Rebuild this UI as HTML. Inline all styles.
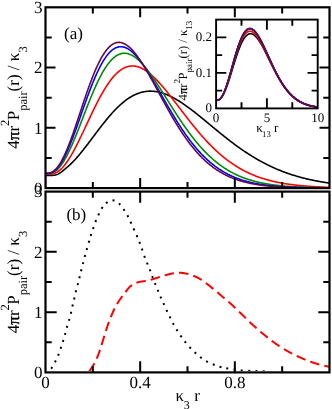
<!DOCTYPE html>
<html><head><meta charset="utf-8"><title>fig</title>
<style>html,body{margin:0;padding:0;background:#fff;}svg{display:block;will-change:transform}text{fill:#000;text-rendering:geometricPrecision;font-family:"Liberation Serif",serif}</style></head>
<body>
<svg width="332" height="409" viewBox="0 0 332 409">
<rect width="332" height="409" fill="#fff"/>
<g fill="none" stroke-linejoin="round">
<path d="M45.50,175.48 L46.21,175.49 L46.92,175.50 L47.64,175.51 L48.35,175.51 L49.06,175.50 L49.77,175.49 L50.48,175.47 L51.19,175.45 L51.91,175.41 L52.62,175.37 L53.33,175.30 L54.04,175.21 L54.75,175.10 L55.46,174.94 L56.18,174.75 L56.89,174.51 L57.60,174.21 L58.31,173.87 L59.02,173.48 L59.74,173.05 L60.45,172.58 L61.16,172.08 L61.87,171.55 L62.58,171.01 L63.29,170.45 L64.01,169.88 L64.72,169.30 L65.43,168.71 L66.14,168.12 L66.85,167.51 L67.57,166.90 L68.28,166.27 L68.99,165.63 L69.70,164.98 L70.41,164.31 L71.12,163.63 L71.84,162.93 L72.55,162.21 L73.26,161.48 L73.97,160.74 L74.68,159.98 L75.39,159.21 L76.11,158.42 L76.82,157.62 L77.53,156.81 L78.24,155.98 L78.95,155.15 L79.67,154.30 L80.38,153.44 L81.09,152.58 L81.80,151.70 L82.51,150.81 L83.22,149.92 L83.94,149.02 L84.65,148.11 L85.36,147.20 L86.07,146.28 L86.78,145.35 L87.49,144.42 L88.21,143.48 L88.92,142.54 L89.63,141.60 L90.34,140.66 L91.05,139.71 L91.77,138.76 L92.48,137.81 L93.19,136.86 L93.90,135.92 L94.61,134.97 L95.32,134.02 L96.04,133.07 L96.75,132.13 L97.46,131.19 L98.17,130.25 L98.88,129.31 L99.60,128.38 L100.31,127.45 L101.02,126.53 L101.73,125.61 L102.44,124.70 L103.15,123.80 L103.87,122.90 L104.58,122.01 L105.29,121.13 L106.00,120.25 L106.71,119.38 L107.42,118.52 L108.14,117.67 L108.85,116.83 L109.56,116.00 L110.27,115.18 L110.98,114.37 L111.70,113.57 L112.41,112.78 L113.12,112.00 L113.83,111.23 L114.54,110.48 L115.25,109.73 L115.97,109.00 L116.68,108.28 L117.39,107.58 L118.10,106.89 L118.81,106.21 L119.53,105.54 L120.24,104.89 L120.95,104.25 L121.66,103.63 L122.37,103.02 L123.08,102.42 L123.80,101.84 L124.51,101.28 L125.22,100.72 L125.93,100.19 L126.64,99.67 L127.35,99.16 L128.07,98.67 L128.78,98.19 L129.49,97.73 L130.20,97.29 L130.91,96.86 L131.63,96.44 L132.34,96.04 L133.05,95.66 L133.76,95.30 L134.47,94.94 L135.18,94.61 L135.90,94.29 L136.61,93.99 L137.32,93.70 L138.03,93.43 L138.74,93.17 L139.45,92.93 L140.17,92.70 L140.88,92.49 L141.59,92.30 L142.30,92.12 L143.01,91.96 L143.73,91.81 L144.44,91.68 L145.15,91.56 L145.86,91.46 L146.57,91.37 L147.28,91.30 L148.00,91.24 L148.71,91.20 L149.42,91.17 L150.13,91.16 L150.84,91.16 L151.56,91.18 L152.27,91.21 L152.98,91.25 L153.69,91.31 L154.40,91.38 L155.11,91.47 L155.83,91.56 L156.54,91.68 L157.25,91.80 L157.96,91.94 L158.67,92.09 L159.38,92.25 L160.10,92.43 L160.81,92.62 L161.52,92.82 L162.23,93.03 L162.94,93.26 L163.66,93.49 L164.37,93.74 L165.08,94.00 L165.79,94.27 L166.50,94.55 L167.21,94.84 L167.93,95.14 L168.64,95.45 L169.35,95.78 L170.06,96.11 L170.77,96.45 L171.48,96.80 L172.20,97.16 L172.91,97.53 L173.62,97.91 L174.33,98.30 L175.04,98.70 L175.76,99.10 L176.47,99.52 L177.18,99.94 L177.89,100.37 L178.60,100.80 L179.31,101.25 L180.03,101.70 L180.74,102.15 L181.45,102.62 L182.16,103.09 L182.87,103.57 L183.59,104.05 L184.30,104.54 L185.01,105.04 L185.72,105.54 L186.43,106.05 L187.14,106.56 L187.86,107.08 L188.57,107.60 L189.28,108.13 L189.99,108.66 L190.70,109.19 L191.41,109.73 L192.13,110.28 L192.84,110.82 L193.55,111.38 L194.26,111.93 L194.97,112.49 L195.69,113.05 L196.40,113.61 L197.11,114.18 L197.82,114.75 L198.53,115.32 L199.24,115.89 L199.96,116.47 L200.67,117.05 L201.38,117.63 L202.09,118.21 L202.80,118.79 L203.52,119.38 L204.23,119.96 L204.94,120.55 L205.65,121.14 L206.36,121.72 L207.07,122.31 L207.79,122.90 L208.50,123.49 L209.21,124.08 L209.92,124.67 L210.63,125.26 L211.34,125.85 L212.06,126.44 L212.77,127.03 L213.48,127.62 L214.19,128.21 L214.90,128.79 L215.62,129.38 L216.33,129.96 L217.04,130.55 L217.75,131.13 L218.46,131.71 L219.17,132.29 L219.89,132.87 L220.60,133.45 L221.31,134.02 L222.02,134.60 L222.73,135.17 L223.44,135.74 L224.16,136.30 L224.87,136.87 L225.58,137.43 L226.29,137.99 L227.00,138.55 L227.72,139.11 L228.43,139.66 L229.14,140.21 L229.85,140.76 L230.56,141.31 L231.27,141.85 L231.99,142.39 L232.70,142.92 L233.41,143.46 L234.12,143.99 L234.83,144.52 L235.55,145.04 L236.26,145.56 L236.97,146.08 L237.68,146.59 L238.39,147.11 L239.10,147.61 L239.82,148.12 L240.53,148.62 L241.24,149.12 L241.95,149.61 L242.66,150.10 L243.37,150.59 L244.09,151.07 L244.80,151.55 L245.51,152.03 L246.22,152.50 L246.93,152.97 L247.65,153.43 L248.36,153.89 L249.07,154.35 L249.78,154.80 L250.49,155.25 L251.20,155.69 L251.92,156.14 L252.63,156.57 L253.34,157.01 L254.05,157.44 L254.76,157.86 L255.47,158.28 L256.19,158.70 L256.90,159.12 L257.61,159.53 L258.32,159.93 L259.03,160.33 L259.75,160.73 L260.46,161.13 L261.17,161.52 L261.88,161.90 L262.59,162.28 L263.30,162.66 L264.02,163.04 L264.73,163.41 L265.44,163.77 L266.15,164.13 L266.86,164.49 L267.58,164.85 L268.29,165.20 L269.00,165.55 L269.71,165.89 L270.42,166.23 L271.13,166.56 L271.85,166.89 L272.56,167.22 L273.27,167.54 L273.98,167.86 L274.69,168.18 L275.40,168.49 L276.12,168.80 L276.83,169.11 L277.54,169.41 L278.25,169.71 L278.96,170.00 L279.68,170.29 L280.39,170.58 L281.10,170.86 L281.81,171.14 L282.52,171.41 L283.23,171.69 L283.95,171.96 L284.66,172.22 L285.37,172.48 L286.08,172.74 L286.79,173.00 L287.51,173.25 L288.22,173.50 L288.93,173.74 L289.64,173.98 L290.35,174.22 L291.06,174.46 L291.78,174.69 L292.49,174.92 L293.20,175.14 L293.91,175.36 L294.62,175.58 L295.33,175.80 L296.05,176.01 L296.76,176.22 L297.47,176.43 L298.18,176.63 L298.89,176.83 L299.61,177.03 L300.32,177.23 L301.03,177.42 L301.74,177.61 L302.45,177.80 L303.16,177.98 L303.88,178.16 L304.59,178.34 L305.30,178.52 L306.01,178.69 L306.72,178.86 L307.43,179.03 L308.15,179.19 L308.86,179.36 L309.57,179.52 L310.28,179.67 L310.99,179.83 L311.71,179.98 L312.42,180.13 L313.13,180.28 L313.84,180.43 L314.55,180.57 L315.26,180.71 L315.98,180.85 L316.69,180.99 L317.40,181.12 L318.11,181.25 L318.82,181.38 L319.54,181.51 L320.25,181.64 L320.96,181.76 L321.67,181.88 L322.38,182.00 L323.09,182.12 L323.81,182.24 L324.52,182.35 L325.23,182.46 L325.94,182.57 L326.65,182.68 L327.36,182.79 L328.08,182.89 L328.79,182.99 L329.50,183.09" stroke="#000000" stroke-width="1.6"/>
<path d="M45.50,174.18 L46.21,174.19 L46.92,174.22 L47.64,174.23 L48.35,174.24 L49.06,174.24 L49.77,174.21 L50.48,174.17 L51.19,174.09 L51.91,173.99 L52.62,173.85 L53.33,173.68 L54.04,173.47 L54.75,173.21 L55.46,172.92 L56.18,172.58 L56.89,172.19 L57.60,171.76 L58.31,171.29 L59.02,170.76 L59.74,170.19 L60.45,169.58 L61.16,168.92 L61.87,168.21 L62.58,167.46 L63.29,166.66 L64.01,165.83 L64.72,164.95 L65.43,164.03 L66.14,163.07 L66.85,162.08 L67.57,161.05 L68.28,159.98 L68.99,158.88 L69.70,157.75 L70.41,156.59 L71.12,155.39 L71.84,154.17 L72.55,152.92 L73.26,151.64 L73.97,150.34 L74.68,149.01 L75.39,147.66 L76.11,146.29 L76.82,144.91 L77.53,143.50 L78.24,142.08 L78.95,140.64 L79.67,139.18 L80.38,137.72 L81.09,136.24 L81.80,134.75 L82.51,133.25 L83.22,131.75 L83.94,130.24 L84.65,128.72 L85.36,127.20 L86.07,125.68 L86.78,124.16 L87.49,122.64 L88.21,121.12 L88.92,119.60 L89.63,118.09 L90.34,116.58 L91.05,115.08 L91.77,113.59 L92.48,112.10 L93.19,110.63 L93.90,109.17 L94.61,107.72 L95.32,106.28 L96.04,104.86 L96.75,103.45 L97.46,102.06 L98.17,100.68 L98.88,99.32 L99.60,97.99 L100.31,96.67 L101.02,95.37 L101.73,94.10 L102.44,92.84 L103.15,91.61 L103.87,90.41 L104.58,89.22 L105.29,88.07 L106.00,86.94 L106.71,85.83 L107.42,84.75 L108.14,83.70 L108.85,82.67 L109.56,81.68 L110.27,80.71 L110.98,79.77 L111.70,78.86 L112.41,77.98 L113.12,77.13 L113.83,76.31 L114.54,75.53 L115.25,74.77 L115.97,74.04 L116.68,73.34 L117.39,72.68 L118.10,72.05 L118.81,71.44 L119.53,70.87 L120.24,70.34 L120.95,69.83 L121.66,69.35 L122.37,68.91 L123.08,68.50 L123.80,68.12 L124.51,67.77 L125.22,67.45 L125.93,67.16 L126.64,66.90 L127.35,66.68 L128.07,66.48 L128.78,66.32 L129.49,66.18 L130.20,66.08 L130.91,66.01 L131.63,65.96 L132.34,65.94 L133.05,65.96 L133.76,66.00 L134.47,66.07 L135.18,66.16 L135.90,66.29 L136.61,66.44 L137.32,66.62 L138.03,66.82 L138.74,67.05 L139.45,67.30 L140.17,67.58 L140.88,67.89 L141.59,68.22 L142.30,68.57 L143.01,68.95 L143.73,69.35 L144.44,69.77 L145.15,70.21 L145.86,70.67 L146.57,71.16 L147.28,71.66 L148.00,72.19 L148.71,72.73 L149.42,73.30 L150.13,73.88 L150.84,74.48 L151.56,75.10 L152.27,75.73 L152.98,76.38 L153.69,77.05 L154.40,77.73 L155.11,78.43 L155.83,79.14 L156.54,79.87 L157.25,80.61 L157.96,81.36 L158.67,82.12 L159.38,82.90 L160.10,83.69 L160.81,84.49 L161.52,85.30 L162.23,86.12 L162.94,86.95 L163.66,87.79 L164.37,88.63 L165.08,89.49 L165.79,90.35 L166.50,91.22 L167.21,92.10 L167.93,92.99 L168.64,93.88 L169.35,94.77 L170.06,95.67 L170.77,96.58 L171.48,97.49 L172.20,98.40 L172.91,99.32 L173.62,100.24 L174.33,101.17 L175.04,102.09 L175.76,103.02 L176.47,103.95 L177.18,104.88 L177.89,105.82 L178.60,106.75 L179.31,107.68 L180.03,108.62 L180.74,109.55 L181.45,110.48 L182.16,111.41 L182.87,112.35 L183.59,113.27 L184.30,114.20 L185.01,115.13 L185.72,116.05 L186.43,116.97 L187.14,117.89 L187.86,118.80 L188.57,119.71 L189.28,120.62 L189.99,121.52 L190.70,122.42 L191.41,123.32 L192.13,124.21 L192.84,125.10 L193.55,125.98 L194.26,126.85 L194.97,127.73 L195.69,128.59 L196.40,129.45 L197.11,130.31 L197.82,131.16 L198.53,132.00 L199.24,132.84 L199.96,133.67 L200.67,134.49 L201.38,135.31 L202.09,136.12 L202.80,136.93 L203.52,137.72 L204.23,138.51 L204.94,139.30 L205.65,140.07 L206.36,140.84 L207.07,141.61 L207.79,142.36 L208.50,143.11 L209.21,143.85 L209.92,144.58 L210.63,145.31 L211.34,146.02 L212.06,146.73 L212.77,147.43 L213.48,148.13 L214.19,148.82 L214.90,149.49 L215.62,150.17 L216.33,150.83 L217.04,151.48 L217.75,152.13 L218.46,152.77 L219.17,153.40 L219.89,154.03 L220.60,154.64 L221.31,155.25 L222.02,155.85 L222.73,156.44 L223.44,157.03 L224.16,157.60 L224.87,158.17 L225.58,158.73 L226.29,159.29 L227.00,159.83 L227.72,160.37 L228.43,160.90 L229.14,161.42 L229.85,161.94 L230.56,162.44 L231.27,162.94 L231.99,163.44 L232.70,163.92 L233.41,164.40 L234.12,164.87 L234.83,165.33 L235.55,165.79 L236.26,166.24 L236.97,166.68 L237.68,167.12 L238.39,167.54 L239.10,167.96 L239.82,168.38 L240.53,168.79 L241.24,169.19 L241.95,169.58 L242.66,169.97 L243.37,170.35 L244.09,170.72 L244.80,171.09 L245.51,171.45 L246.22,171.81 L246.93,172.16 L247.65,172.50 L248.36,172.84 L249.07,173.17 L249.78,173.49 L250.49,173.81 L251.20,174.12 L251.92,174.43 L252.63,174.73 L253.34,175.03 L254.05,175.32 L254.76,175.61 L255.47,175.89 L256.19,176.16 L256.90,176.43 L257.61,176.69 L258.32,176.95 L259.03,177.21 L259.75,177.46 L260.46,177.70 L261.17,177.94 L261.88,178.18 L262.59,178.41 L263.30,178.63 L264.02,178.85 L264.73,179.07 L265.44,179.28 L266.15,179.49 L266.86,179.69 L267.58,179.89 L268.29,180.09 L269.00,180.28 L269.71,180.47 L270.42,180.65 L271.13,180.83 L271.85,181.01 L272.56,181.18 L273.27,181.35 L273.98,181.51 L274.69,181.67 L275.40,181.83 L276.12,181.99 L276.83,182.14 L277.54,182.29 L278.25,182.43 L278.96,182.57 L279.68,182.71 L280.39,182.85 L281.10,182.98 L281.81,183.11 L282.52,183.23 L283.23,183.36 L283.95,183.48 L284.66,183.59 L285.37,183.71 L286.08,183.82 L286.79,183.93 L287.51,184.04 L288.22,184.15 L288.93,184.25 L289.64,184.35 L290.35,184.45 L291.06,184.54 L291.78,184.63 L292.49,184.73 L293.20,184.81 L293.91,184.90 L294.62,184.99 L295.33,185.07 L296.05,185.15 L296.76,185.23 L297.47,185.31 L298.18,185.38 L298.89,185.45 L299.61,185.52 L300.32,185.59 L301.03,185.66 L301.74,185.73 L302.45,185.79 L303.16,185.86 L303.88,185.92 L304.59,185.98 L305.30,186.04 L306.01,186.09 L306.72,186.15 L307.43,186.20 L308.15,186.25 L308.86,186.31 L309.57,186.36 L310.28,186.40 L310.99,186.45 L311.71,186.50 L312.42,186.54 L313.13,186.59 L313.84,186.63 L314.55,186.67 L315.26,186.71 L315.98,186.75 L316.69,186.79 L317.40,186.83 L318.11,186.86 L318.82,186.90 L319.54,186.93 L320.25,186.97 L320.96,187.00 L321.67,187.03 L322.38,187.06 L323.09,187.09 L323.81,187.12 L324.52,187.15 L325.23,187.18 L325.94,187.21 L326.65,187.23 L327.36,187.26 L328.08,187.28 L328.79,187.31 L329.50,187.33" stroke="#ff0000" stroke-width="1.6"/>
<path d="M45.50,173.71 L46.21,173.72 L46.92,173.73 L47.64,173.73 L48.35,173.69 L49.06,173.63 L49.77,173.53 L50.48,173.40 L51.19,173.22 L51.91,172.99 L52.62,172.72 L53.33,172.39 L54.04,172.01 L54.75,171.58 L55.46,171.10 L56.18,170.55 L56.89,169.95 L57.60,169.30 L58.31,168.58 L59.02,167.81 L59.74,166.98 L60.45,166.10 L61.16,165.16 L61.87,164.16 L62.58,163.12 L63.29,162.02 L64.01,160.87 L64.72,159.67 L65.43,158.42 L66.14,157.12 L66.85,155.79 L67.57,154.40 L68.28,152.98 L68.99,151.52 L69.70,150.01 L70.41,148.48 L71.12,146.90 L71.84,145.30 L72.55,143.67 L73.26,142.00 L73.97,140.31 L74.68,138.60 L75.39,136.86 L76.11,135.11 L76.82,133.33 L77.53,131.54 L78.24,129.74 L78.95,127.92 L79.67,126.09 L80.38,124.25 L81.09,122.41 L81.80,120.56 L82.51,118.71 L83.22,116.86 L83.94,115.01 L84.65,113.16 L85.36,111.32 L86.07,109.49 L86.78,107.66 L87.49,105.84 L88.21,104.04 L88.92,102.25 L89.63,100.47 L90.34,98.71 L91.05,96.97 L91.77,95.25 L92.48,93.55 L93.19,91.88 L93.90,90.22 L94.61,88.60 L95.32,87.00 L96.04,85.42 L96.75,83.88 L97.46,82.36 L98.17,80.88 L98.88,79.43 L99.60,78.01 L100.31,76.63 L101.02,75.28 L101.73,73.96 L102.44,72.69 L103.15,71.45 L103.87,70.25 L104.58,69.08 L105.29,67.96 L106.00,66.87 L106.71,65.83 L107.42,64.82 L108.14,63.86 L108.85,62.94 L109.56,62.05 L110.27,61.22 L110.98,60.42 L111.70,59.66 L112.41,58.95 L113.12,58.28 L113.83,57.65 L114.54,57.06 L115.25,56.52 L115.97,56.02 L116.68,55.56 L117.39,55.14 L118.10,54.77 L118.81,54.43 L119.53,54.14 L120.24,53.89 L120.95,53.68 L121.66,53.51 L122.37,53.38 L123.08,53.29 L123.80,53.23 L124.51,53.22 L125.22,53.25 L125.93,53.31 L126.64,53.41 L127.35,53.55 L128.07,53.73 L128.78,53.94 L129.49,54.18 L130.20,54.46 L130.91,54.78 L131.63,55.13 L132.34,55.51 L133.05,55.92 L133.76,56.36 L134.47,56.84 L135.18,57.34 L135.90,57.88 L136.61,58.44 L137.32,59.03 L138.03,59.65 L138.74,60.29 L139.45,60.97 L140.17,61.66 L140.88,62.38 L141.59,63.13 L142.30,63.89 L143.01,64.68 L143.73,65.49 L144.44,66.32 L145.15,67.17 L145.86,68.04 L146.57,68.93 L147.28,69.84 L148.00,70.76 L148.71,71.70 L149.42,72.66 L150.13,73.63 L150.84,74.61 L151.56,75.61 L152.27,76.62 L152.98,77.65 L153.69,78.68 L154.40,79.73 L155.11,80.78 L155.83,81.85 L156.54,82.92 L157.25,84.00 L157.96,85.09 L158.67,86.19 L159.38,87.29 L160.10,88.40 L160.81,89.51 L161.52,90.63 L162.23,91.75 L162.94,92.88 L163.66,94.01 L164.37,95.14 L165.08,96.27 L165.79,97.41 L166.50,98.54 L167.21,99.68 L167.93,100.81 L168.64,101.95 L169.35,103.08 L170.06,104.21 L170.77,105.34 L171.48,106.47 L172.20,107.60 L172.91,108.72 L173.62,109.84 L174.33,110.95 L175.04,112.06 L175.76,113.17 L176.47,114.27 L177.18,115.36 L177.89,116.45 L178.60,117.54 L179.31,118.62 L180.03,119.69 L180.74,120.75 L181.45,121.81 L182.16,122.86 L182.87,123.90 L183.59,124.94 L184.30,125.97 L185.01,126.98 L185.72,128.00 L186.43,129.00 L187.14,129.99 L187.86,130.98 L188.57,131.95 L189.28,132.92 L189.99,133.87 L190.70,134.82 L191.41,135.76 L192.13,136.69 L192.84,137.61 L193.55,138.52 L194.26,139.41 L194.97,140.30 L195.69,141.18 L196.40,142.05 L197.11,142.91 L197.82,143.75 L198.53,144.59 L199.24,145.42 L199.96,146.23 L200.67,147.04 L201.38,147.84 L202.09,148.62 L202.80,149.39 L203.52,150.16 L204.23,150.91 L204.94,151.65 L205.65,152.38 L206.36,153.11 L207.07,153.82 L207.79,154.52 L208.50,155.21 L209.21,155.89 L209.92,156.56 L210.63,157.21 L211.34,157.86 L212.06,158.50 L212.77,159.13 L213.48,159.75 L214.19,160.36 L214.90,160.95 L215.62,161.54 L216.33,162.12 L217.04,162.69 L217.75,163.25 L218.46,163.80 L219.17,164.34 L219.89,164.87 L220.60,165.39 L221.31,165.90 L222.02,166.40 L222.73,166.90 L223.44,167.38 L224.16,167.86 L224.87,168.32 L225.58,168.78 L226.29,169.23 L227.00,169.67 L227.72,170.11 L228.43,170.53 L229.14,170.95 L229.85,171.35 L230.56,171.75 L231.27,172.15 L231.99,172.53 L232.70,172.91 L233.41,173.27 L234.12,173.64 L234.83,173.99 L235.55,174.34 L236.26,174.68 L236.97,175.01 L237.68,175.33 L238.39,175.65 L239.10,175.97 L239.82,176.27 L240.53,176.57 L241.24,176.86 L241.95,177.15 L242.66,177.43 L243.37,177.70 L244.09,177.97 L244.80,178.23 L245.51,178.49 L246.22,178.74 L246.93,178.98 L247.65,179.22 L248.36,179.45 L249.07,179.68 L249.78,179.90 L250.49,180.12 L251.20,180.33 L251.92,180.54 L252.63,180.74 L253.34,180.94 L254.05,181.14 L254.76,181.32 L255.47,181.51 L256.19,181.69 L256.90,181.86 L257.61,182.03 L258.32,182.20 L259.03,182.36 L259.75,182.52 L260.46,182.68 L261.17,182.83 L261.88,182.98 L262.59,183.12 L263.30,183.26 L264.02,183.40 L264.73,183.53 L265.44,183.66 L266.15,183.79 L266.86,183.91 L267.58,184.03 L268.29,184.15 L269.00,184.26 L269.71,184.37 L270.42,184.48 L271.13,184.59 L271.85,184.69 L272.56,184.79 L273.27,184.88 L273.98,184.98 L274.69,185.07 L275.40,185.16 L276.12,185.25 L276.83,185.33 L277.54,185.41 L278.25,185.50 L278.96,185.57 L279.68,185.65 L280.39,185.72 L281.10,185.79 L281.81,185.86 L282.52,185.93 L283.23,186.00 L283.95,186.06 L284.66,186.12 L285.37,186.19 L286.08,186.24 L286.79,186.30 L287.51,186.36 L288.22,186.41 L288.93,186.46 L289.64,186.51 L290.35,186.56 L291.06,186.61 L291.78,186.66 L292.49,186.70 L293.20,186.75 L293.91,186.79 L294.62,186.83 L295.33,186.87 L296.05,186.91 L296.76,186.95 L297.47,186.99 L298.18,187.02 L298.89,187.06 L299.61,187.09 L300.32,187.12 L301.03,187.15 L301.74,187.19 L302.45,187.21 L303.16,187.24 L303.88,187.27 L304.59,187.30 L305.30,187.33 L306.01,187.35 L306.72,187.38 L307.43,187.40 L308.15,187.42 L308.86,187.44 L309.57,187.47 L310.28,187.49 L310.99,187.51 L311.71,187.53 L312.42,187.55 L313.13,187.57 L313.84,187.58 L314.55,187.60 L315.26,187.62 L315.98,187.63 L316.69,187.65 L317.40,187.67 L318.11,187.68 L318.82,187.69 L319.54,187.71 L320.25,187.72 L320.96,187.73 L321.67,187.75 L322.38,187.76 L323.09,187.77 L323.81,187.78 L324.52,187.79 L325.23,187.80 L325.94,187.81 L326.65,187.82 L327.36,187.83 L328.08,187.84 L328.79,187.85 L329.50,187.86" stroke="#008b00" stroke-width="1.6"/>
<path d="M45.50,173.52 L46.21,173.53 L46.92,173.54 L47.64,173.51 L48.35,173.46 L49.06,173.36 L49.77,173.22 L50.48,173.03 L51.19,172.78 L51.91,172.49 L52.62,172.13 L53.33,171.71 L54.04,171.24 L54.75,170.70 L55.46,170.09 L56.18,169.43 L56.89,168.70 L57.60,167.91 L58.31,167.05 L59.02,166.13 L59.74,165.15 L60.45,164.11 L61.16,163.00 L61.87,161.84 L62.58,160.62 L63.29,159.34 L64.01,158.00 L64.72,156.62 L65.43,155.18 L66.14,153.68 L66.85,152.15 L67.57,150.56 L68.28,148.93 L68.99,147.26 L69.70,145.55 L70.41,143.80 L71.12,142.01 L71.84,140.19 L72.55,138.34 L73.26,136.47 L73.97,134.56 L74.68,132.63 L75.39,130.68 L76.11,128.72 L76.82,126.73 L77.53,124.73 L78.24,122.72 L78.95,120.71 L79.67,118.68 L80.38,116.65 L81.09,114.62 L81.80,112.58 L82.51,110.55 L83.22,108.53 L83.94,106.51 L84.65,104.50 L85.36,102.50 L86.07,100.51 L86.78,98.54 L87.49,96.59 L88.21,94.66 L88.92,92.74 L89.63,90.85 L90.34,88.98 L91.05,87.14 L91.77,85.33 L92.48,83.55 L93.19,81.79 L93.90,80.07 L94.61,78.38 L95.32,76.73 L96.04,75.12 L96.75,73.54 L97.46,72.00 L98.17,70.50 L98.88,69.04 L99.60,67.62 L100.31,66.24 L101.02,64.91 L101.73,63.62 L102.44,62.37 L103.15,61.18 L103.87,60.02 L104.58,58.92 L105.29,57.86 L106.00,56.85 L106.71,55.88 L107.42,54.97 L108.14,54.10 L108.85,53.28 L109.56,52.51 L110.27,51.79 L110.98,51.11 L111.70,50.49 L112.41,49.91 L113.12,49.39 L113.83,48.91 L114.54,48.48 L115.25,48.09 L115.97,47.76 L116.68,47.47 L117.39,47.23 L118.10,47.04 L118.81,46.89 L119.53,46.79 L120.24,46.73 L120.95,46.72 L121.66,46.75 L122.37,46.82 L123.08,46.94 L123.80,47.10 L124.51,47.31 L125.22,47.55 L125.93,47.83 L126.64,48.16 L127.35,48.52 L128.07,48.92 L128.78,49.36 L129.49,49.83 L130.20,50.34 L130.91,50.89 L131.63,51.47 L132.34,52.08 L133.05,52.72 L133.76,53.40 L134.47,54.11 L135.18,54.84 L135.90,55.61 L136.61,56.40 L137.32,57.22 L138.03,58.07 L138.74,58.94 L139.45,59.83 L140.17,60.75 L140.88,61.70 L141.59,62.66 L142.30,63.65 L143.01,64.65 L143.73,65.68 L144.44,66.72 L145.15,67.78 L145.86,68.86 L146.57,69.95 L147.28,71.06 L148.00,72.18 L148.71,73.31 L149.42,74.46 L150.13,75.62 L150.84,76.79 L151.56,77.97 L152.27,79.16 L152.98,80.36 L153.69,81.56 L154.40,82.78 L155.11,84.00 L155.83,85.22 L156.54,86.45 L157.25,87.69 L157.96,88.92 L158.67,90.16 L159.38,91.41 L160.10,92.65 L160.81,93.90 L161.52,95.15 L162.23,96.39 L162.94,97.64 L163.66,98.89 L164.37,100.13 L165.08,101.37 L165.79,102.61 L166.50,103.84 L167.21,105.08 L167.93,106.30 L168.64,107.53 L169.35,108.74 L170.06,109.96 L170.77,111.16 L171.48,112.36 L172.20,113.56 L172.91,114.75 L173.62,115.93 L174.33,117.10 L175.04,118.26 L175.76,119.42 L176.47,120.57 L177.18,121.70 L177.89,122.83 L178.60,123.95 L179.31,125.06 L180.03,126.17 L180.74,127.26 L181.45,128.34 L182.16,129.41 L182.87,130.47 L183.59,131.51 L184.30,132.55 L185.01,133.58 L185.72,134.59 L186.43,135.60 L187.14,136.59 L187.86,137.57 L188.57,138.54 L189.28,139.50 L189.99,140.45 L190.70,141.38 L191.41,142.30 L192.13,143.21 L192.84,144.11 L193.55,145.00 L194.26,145.87 L194.97,146.73 L195.69,147.58 L196.40,148.42 L197.11,149.24 L197.82,150.06 L198.53,150.86 L199.24,151.65 L199.96,152.42 L200.67,153.19 L201.38,153.94 L202.09,154.68 L202.80,155.41 L203.52,156.13 L204.23,156.83 L204.94,157.53 L205.65,158.21 L206.36,158.88 L207.07,159.54 L207.79,160.19 L208.50,160.82 L209.21,161.45 L209.92,162.06 L210.63,162.67 L211.34,163.26 L212.06,163.84 L212.77,164.41 L213.48,164.97 L214.19,165.52 L214.90,166.06 L215.62,166.58 L216.33,167.10 L217.04,167.61 L217.75,168.11 L218.46,168.60 L219.17,169.08 L219.89,169.54 L220.60,170.00 L221.31,170.45 L222.02,170.90 L222.73,171.33 L223.44,171.75 L224.16,172.16 L224.87,172.57 L225.58,172.97 L226.29,173.35 L227.00,173.73 L227.72,174.10 L228.43,174.47 L229.14,174.82 L229.85,175.17 L230.56,175.51 L231.27,175.84 L231.99,176.17 L232.70,176.48 L233.41,176.79 L234.12,177.10 L234.83,177.39 L235.55,177.68 L236.26,177.97 L236.97,178.24 L237.68,178.51 L238.39,178.77 L239.10,179.03 L239.82,179.28 L240.53,179.52 L241.24,179.76 L241.95,180.00 L242.66,180.22 L243.37,180.44 L244.09,180.66 L244.80,180.87 L245.51,181.08 L246.22,181.28 L246.93,181.47 L247.65,181.66 L248.36,181.85 L249.07,182.03 L249.78,182.20 L250.49,182.38 L251.20,182.54 L251.92,182.70 L252.63,182.86 L253.34,183.02 L254.05,183.17 L254.76,183.31 L255.47,183.46 L256.19,183.59 L256.90,183.73 L257.61,183.86 L258.32,183.99 L259.03,184.11 L259.75,184.23 L260.46,184.35 L261.17,184.46 L261.88,184.58 L262.59,184.68 L263.30,184.79 L264.02,184.89 L264.73,184.99 L265.44,185.09 L266.15,185.18 L266.86,185.27 L267.58,185.36 L268.29,185.45 L269.00,185.53 L269.71,185.61 L270.42,185.69 L271.13,185.77 L271.85,185.84 L272.56,185.91 L273.27,185.98 L273.98,186.05 L274.69,186.12 L275.40,186.18 L276.12,186.24 L276.83,186.30 L277.54,186.36 L278.25,186.42 L278.96,186.47 L279.68,186.53 L280.39,186.58 L281.10,186.63 L281.81,186.68 L282.52,186.72 L283.23,186.77 L283.95,186.81 L284.66,186.86 L285.37,186.90 L286.08,186.94 L286.79,186.98 L287.51,187.01 L288.22,187.05 L288.93,187.09 L289.64,187.12 L290.35,187.15 L291.06,187.19 L291.78,187.22 L292.49,187.25 L293.20,187.28 L293.91,187.31 L294.62,187.33 L295.33,187.36 L296.05,187.38 L296.76,187.41 L297.47,187.43 L298.18,187.46 L298.89,187.48 L299.61,187.50 L300.32,187.52 L301.03,187.54 L301.74,187.56 L302.45,187.58 L303.16,187.60 L303.88,187.62 L304.59,187.63 L305.30,187.65 L306.01,187.67 L306.72,187.68 L307.43,187.70 L308.15,187.71 L308.86,187.73 L309.57,187.74 L310.28,187.75 L310.99,187.77 L311.71,187.78 L312.42,187.79 L313.13,187.80 L313.84,187.81 L314.55,187.82 L315.26,187.83 L315.98,187.84 L316.69,187.85 L317.40,187.86 L318.11,187.87 L318.82,187.88 L319.54,187.89 L320.25,187.89 L320.96,187.90 L321.67,187.91 L322.38,187.92 L323.09,187.92 L323.81,187.93 L324.52,187.94 L325.23,187.94 L325.94,187.95 L326.65,187.95 L327.36,187.96 L328.08,187.97 L328.79,187.97 L329.50,187.98" stroke="#0000ff" stroke-width="1.6"/>
<path d="M45.50,173.07 L46.21,173.09 L46.92,173.09 L47.64,173.06 L48.35,173.00 L49.06,172.89 L49.77,172.73 L50.48,172.52 L51.19,172.25 L51.91,171.93 L52.62,171.53 L53.33,171.08 L54.04,170.55 L54.75,169.96 L55.46,169.30 L56.18,168.57 L56.89,167.77 L57.60,166.91 L58.31,165.97 L59.02,164.97 L59.74,163.90 L60.45,162.76 L61.16,161.56 L61.87,160.29 L62.58,158.96 L63.29,157.57 L64.01,156.12 L64.72,154.62 L65.43,153.06 L66.14,151.44 L66.85,149.78 L67.57,148.06 L68.28,146.30 L68.99,144.50 L69.70,142.66 L70.41,140.77 L71.12,138.85 L71.84,136.90 L72.55,134.91 L73.26,132.90 L73.97,130.86 L74.68,128.80 L75.39,126.72 L76.11,124.62 L76.82,122.50 L77.53,120.38 L78.24,118.24 L78.95,116.10 L79.67,113.95 L80.38,111.80 L81.09,109.65 L81.80,107.51 L82.51,105.37 L83.22,103.23 L83.94,101.11 L84.65,99.01 L85.36,96.91 L86.07,94.84 L86.78,92.78 L87.49,90.75 L88.21,88.73 L88.92,86.75 L89.63,84.79 L90.34,82.86 L91.05,80.96 L91.77,79.10 L92.48,77.27 L93.19,75.47 L93.90,73.72 L94.61,72.00 L95.32,70.32 L96.04,68.69 L96.75,67.09 L97.46,65.54 L98.17,64.04 L98.88,62.58 L99.60,61.17 L100.31,59.81 L101.02,58.49 L101.73,57.22 L102.44,56.01 L103.15,54.84 L103.87,53.73 L104.58,52.66 L105.29,51.65 L106.00,50.69 L106.71,49.79 L107.42,48.93 L108.14,48.13 L108.85,47.38 L109.56,46.69 L110.27,46.04 L110.98,45.45 L111.70,44.92 L112.41,44.43 L113.12,44.00 L113.83,43.62 L114.54,43.29 L115.25,43.01 L115.97,42.78 L116.68,42.60 L117.39,42.48 L118.10,42.40 L118.81,42.37 L119.53,42.39 L120.24,42.45 L120.95,42.57 L121.66,42.73 L122.37,42.93 L123.08,43.18 L123.80,43.47 L124.51,43.81 L125.22,44.19 L125.93,44.61 L126.64,45.07 L127.35,45.57 L128.07,46.11 L128.78,46.68 L129.49,47.30 L130.20,47.95 L130.91,48.63 L131.63,49.35 L132.34,50.10 L133.05,50.88 L133.76,51.70 L134.47,52.54 L135.18,53.42 L135.90,54.32 L136.61,55.25 L137.32,56.21 L138.03,57.19 L138.74,58.19 L139.45,59.22 L140.17,60.27 L140.88,61.34 L141.59,62.44 L142.30,63.55 L143.01,64.68 L143.73,65.83 L144.44,66.99 L145.15,68.17 L145.86,69.37 L146.57,70.57 L147.28,71.80 L148.00,73.03 L148.71,74.28 L149.42,75.53 L150.13,76.80 L150.84,78.07 L151.56,79.35 L152.27,80.64 L152.98,81.93 L153.69,83.23 L154.40,84.54 L155.11,85.85 L155.83,87.16 L156.54,88.48 L157.25,89.79 L157.96,91.11 L158.67,92.43 L159.38,93.75 L160.10,95.06 L160.81,96.38 L161.52,97.70 L162.23,99.01 L162.94,100.32 L163.66,101.62 L164.37,102.92 L165.08,104.22 L165.79,105.51 L166.50,106.80 L167.21,108.08 L167.93,109.35 L168.64,110.62 L169.35,111.88 L170.06,113.13 L170.77,114.37 L171.48,115.60 L172.20,116.83 L172.91,118.05 L173.62,119.25 L174.33,120.45 L175.04,121.64 L175.76,122.82 L176.47,123.98 L177.18,125.14 L177.89,126.28 L178.60,127.42 L179.31,128.54 L180.03,129.65 L180.74,130.75 L181.45,131.84 L182.16,132.91 L182.87,133.97 L183.59,135.02 L184.30,136.06 L185.01,137.08 L185.72,138.09 L186.43,139.09 L187.14,140.08 L187.86,141.05 L188.57,142.01 L189.28,142.96 L189.99,143.89 L190.70,144.81 L191.41,145.72 L192.13,146.62 L192.84,147.50 L193.55,148.36 L194.26,149.22 L194.97,150.06 L195.69,150.89 L196.40,151.71 L197.11,152.51 L197.82,153.30 L198.53,154.07 L199.24,154.84 L199.96,155.59 L200.67,156.33 L201.38,157.05 L202.09,157.77 L202.80,158.47 L203.52,159.15 L204.23,159.83 L204.94,160.49 L205.65,161.15 L206.36,161.78 L207.07,162.41 L207.79,163.03 L208.50,163.63 L209.21,164.22 L209.92,164.81 L210.63,165.38 L211.34,165.93 L212.06,166.48 L212.77,167.02 L213.48,167.54 L214.19,168.06 L214.90,168.56 L215.62,169.06 L216.33,169.54 L217.04,170.02 L217.75,170.48 L218.46,170.93 L219.17,171.38 L219.89,171.81 L220.60,172.24 L221.31,172.65 L222.02,173.06 L222.73,173.46 L223.44,173.85 L224.16,174.23 L224.87,174.60 L225.58,174.96 L226.29,175.32 L227.00,175.66 L227.72,176.00 L228.43,176.33 L229.14,176.66 L229.85,176.97 L230.56,177.28 L231.27,177.58 L231.99,177.87 L232.70,178.16 L233.41,178.44 L234.12,178.71 L234.83,178.98 L235.55,179.24 L236.26,179.49 L236.97,179.73 L237.68,179.98 L238.39,180.21 L239.10,180.44 L239.82,180.66 L240.53,180.88 L241.24,181.09 L241.95,181.29 L242.66,181.49 L243.37,181.69 L244.09,181.88 L244.80,182.06 L245.51,182.24 L246.22,182.42 L246.93,182.59 L247.65,182.76 L248.36,182.92 L249.07,183.08 L249.78,183.23 L250.49,183.38 L251.20,183.52 L251.92,183.66 L252.63,183.80 L253.34,183.93 L254.05,184.06 L254.76,184.19 L255.47,184.31 L256.19,184.43 L256.90,184.54 L257.61,184.66 L258.32,184.76 L259.03,184.87 L259.75,184.97 L260.46,185.07 L261.17,185.17 L261.88,185.26 L262.59,185.35 L263.30,185.44 L264.02,185.53 L264.73,185.61 L265.44,185.69 L266.15,185.77 L266.86,185.85 L267.58,185.92 L268.29,185.99 L269.00,186.06 L269.71,186.13 L270.42,186.20 L271.13,186.26 L271.85,186.32 L272.56,186.38 L273.27,186.44 L273.98,186.49 L274.69,186.55 L275.40,186.60 L276.12,186.65 L276.83,186.70 L277.54,186.75 L278.25,186.79 L278.96,186.84 L279.68,186.88 L280.39,186.92 L281.10,186.96 L281.81,187.00 L282.52,187.04 L283.23,187.08 L283.95,187.11 L284.66,187.15 L285.37,187.18 L286.08,187.21 L286.79,187.24 L287.51,187.27 L288.22,187.30 L288.93,187.33 L289.64,187.36 L290.35,187.39 L291.06,187.41 L291.78,187.44 L292.49,187.46 L293.20,187.48 L293.91,187.50 L294.62,187.53 L295.33,187.55 L296.05,187.57 L296.76,187.59 L297.47,187.60 L298.18,187.62 L298.89,187.64 L299.61,187.66 L300.32,187.67 L301.03,187.69 L301.74,187.70 L302.45,187.72 L303.16,187.73 L303.88,187.75 L304.59,187.76 L305.30,187.77 L306.01,187.78 L306.72,187.80 L307.43,187.81 L308.15,187.82 L308.86,187.83 L309.57,187.84 L310.28,187.85 L310.99,187.86 L311.71,187.87 L312.42,187.88 L313.13,187.89 L313.84,187.89 L314.55,187.90 L315.26,187.91 L315.98,187.92 L316.69,187.92 L317.40,187.93 L318.11,187.94 L318.82,187.94 L319.54,187.95 L320.25,187.96 L320.96,187.96 L321.67,187.97 L322.38,187.97 L323.09,187.98 L323.81,187.98 L324.52,187.99 L325.23,187.99 L325.94,187.99 L326.65,188.00 L327.36,188.00 L328.08,188.01 L328.79,188.01 L329.50,188.01" stroke="#670748" stroke-width="1.6"/>
</g>
<g fill="none" stroke-linejoin="round">
<path d="M216.10,99.99 L216.44,99.99 L216.78,100.00 L217.12,99.98 L217.46,99.95 L217.80,99.90 L218.14,99.82 L218.48,99.71 L218.82,99.58 L219.16,99.41 L219.50,99.20 L219.84,98.97 L220.18,98.70 L220.52,98.39 L220.86,98.05 L221.20,97.67 L221.54,97.25 L221.88,96.80 L222.22,96.32 L222.56,95.79 L222.90,95.24 L223.24,94.64 L223.58,94.01 L223.92,93.35 L224.26,92.66 L224.59,91.93 L224.93,91.18 L225.27,90.39 L225.61,89.58 L225.95,88.73 L226.29,87.86 L226.63,86.97 L226.97,86.05 L227.31,85.11 L227.65,84.14 L227.99,83.16 L228.33,82.16 L228.67,81.14 L229.01,80.10 L229.35,79.05 L229.69,77.99 L230.03,76.92 L230.37,75.83 L230.71,74.74 L231.05,73.64 L231.39,72.53 L231.73,71.42 L232.07,70.31 L232.41,69.19 L232.75,68.08 L233.09,66.97 L233.43,65.86 L233.77,64.75 L234.11,63.65 L234.45,62.55 L234.79,61.46 L235.13,60.39 L235.47,59.32 L235.81,58.26 L236.15,57.22 L236.49,56.18 L236.83,55.17 L237.17,54.17 L237.51,53.18 L237.85,52.22 L238.19,51.27 L238.53,50.34 L238.87,49.43 L239.21,48.54 L239.55,47.67 L239.89,46.83 L240.23,46.01 L240.57,45.21 L240.91,44.44 L241.25,43.69 L241.58,42.96 L241.92,42.26 L242.26,41.59 L242.60,40.94 L242.94,40.32 L243.28,39.73 L243.62,39.17 L243.96,38.63 L244.30,38.12 L244.64,37.64 L244.98,37.18 L245.32,36.76 L245.66,36.36 L246.00,35.99 L246.34,35.65 L246.68,35.33 L247.02,35.05 L247.36,34.79 L247.70,34.56 L248.04,34.36 L248.38,34.18 L248.72,34.04 L249.06,33.92 L249.40,33.82 L249.74,33.76 L250.08,33.72 L250.42,33.70 L250.76,33.71 L251.10,33.75 L251.44,33.81 L251.78,33.90 L252.12,34.01 L252.46,34.14 L252.80,34.30 L253.14,34.48 L253.48,34.68 L253.82,34.90 L254.16,35.15 L254.50,35.42 L254.84,35.71 L255.18,36.01 L255.52,36.34 L255.86,36.69 L256.20,37.05 L256.54,37.43 L256.88,37.83 L257.22,38.25 L257.56,38.68 L257.90,39.13 L258.24,39.60 L258.57,40.08 L258.91,40.57 L259.25,41.08 L259.59,41.60 L259.93,42.13 L260.27,42.68 L260.61,43.23 L260.95,43.80 L261.29,44.38 L261.63,44.97 L261.97,45.57 L262.31,46.17 L262.65,46.79 L262.99,47.41 L263.33,48.04 L263.67,48.68 L264.01,49.32 L264.35,49.97 L264.69,50.63 L265.03,51.29 L265.37,51.96 L265.71,52.63 L266.05,53.30 L266.39,53.98 L266.73,54.66 L267.07,55.34 L267.41,56.02 L267.75,56.71 L268.09,57.40 L268.43,58.09 L268.77,58.78 L269.11,59.47 L269.45,60.16 L269.79,60.84 L270.13,61.53 L270.47,62.22 L270.81,62.91 L271.15,63.59 L271.49,64.27 L271.83,64.95 L272.17,65.63 L272.51,66.30 L272.85,66.97 L273.19,67.64 L273.53,68.31 L273.87,68.97 L274.21,69.62 L274.55,70.28 L274.89,70.92 L275.23,71.57 L275.56,72.21 L275.90,72.84 L276.24,73.47 L276.58,74.09 L276.92,74.71 L277.26,75.32 L277.60,75.93 L277.94,76.53 L278.28,77.12 L278.62,77.71 L278.96,78.29 L279.30,78.87 L279.64,79.44 L279.98,80.00 L280.32,80.56 L280.66,81.11 L281.00,81.65 L281.34,82.19 L281.68,82.72 L282.02,83.24 L282.36,83.76 L282.70,84.27 L283.04,84.77 L283.38,85.26 L283.72,85.75 L284.06,86.23 L284.40,86.71 L284.74,87.18 L285.08,87.64 L285.42,88.09 L285.76,88.53 L286.10,88.97 L286.44,89.41 L286.78,89.83 L287.12,90.25 L287.46,90.66 L287.80,91.06 L288.14,91.46 L288.48,91.85 L288.82,92.24 L289.16,92.61 L289.50,92.98 L289.84,93.35 L290.18,93.71 L290.52,94.06 L290.86,94.40 L291.20,94.74 L291.54,95.07 L291.88,95.40 L292.22,95.71 L292.55,96.03 L292.89,96.33 L293.23,96.63 L293.57,96.93 L293.91,97.22 L294.25,97.50 L294.59,97.78 L294.93,98.05 L295.27,98.31 L295.61,98.57 L295.95,98.83 L296.29,99.08 L296.63,99.32 L296.97,99.56 L297.31,99.79 L297.65,100.02 L297.99,100.24 L298.33,100.46 L298.67,100.67 L299.01,100.88 L299.35,101.09 L299.69,101.28 L300.03,101.48 L300.37,101.67 L300.71,101.85 L301.05,102.04 L301.39,102.21 L301.73,102.39 L302.07,102.55 L302.41,102.72 L302.75,102.88 L303.09,103.03 L303.43,103.19 L303.77,103.34 L304.11,103.48 L304.45,103.62 L304.79,103.76 L305.13,103.90 L305.47,104.03 L305.81,104.15 L306.15,104.28 L306.49,104.40 L306.83,104.52 L307.17,104.63 L307.51,104.75 L307.85,104.85 L308.19,104.96 L308.53,105.06 L308.87,105.17 L309.21,105.26 L309.54,105.36 L309.88,105.45 L310.22,105.54 L310.56,105.63 L310.90,105.71 L311.24,105.80 L311.58,105.88 L311.92,105.96 L312.26,106.03 L312.60,106.11 L312.94,106.18 L313.28,106.25 L313.62,106.32 L313.96,106.38 L314.30,106.45 L314.64,106.51 L314.98,106.57 L315.32,106.63 L315.66,106.69 L316.00,106.74 L316.34,106.80 L316.68,106.85 L317.02,106.90 L317.36,106.95 L317.70,106.99" stroke="#000000" stroke-width="1.6"/>
<path d="M216.10,100.44 L216.44,100.45 L216.78,100.45 L217.12,100.43 L217.46,100.39 L217.80,100.33 L218.14,100.24 L218.48,100.12 L218.82,99.96 L219.16,99.77 L219.50,99.54 L219.84,99.28 L220.18,98.98 L220.52,98.64 L220.86,98.26 L221.20,97.84 L221.54,97.38 L221.88,96.88 L222.22,96.34 L222.56,95.77 L222.90,95.16 L223.24,94.51 L223.58,93.82 L223.92,93.10 L224.26,92.34 L224.59,91.55 L224.93,90.73 L225.27,89.87 L225.61,88.99 L225.95,88.07 L226.29,87.13 L226.63,86.17 L226.97,85.17 L227.31,84.16 L227.65,83.12 L227.99,82.06 L228.33,80.99 L228.67,79.90 L229.01,78.79 L229.35,77.66 L229.69,76.53 L230.03,75.38 L230.37,74.23 L230.71,73.06 L231.05,71.89 L231.39,70.72 L231.73,69.54 L232.07,68.36 L232.41,67.18 L232.75,66.01 L233.09,64.83 L233.43,63.66 L233.77,62.50 L234.11,61.34 L234.45,60.19 L234.79,59.05 L235.13,57.92 L235.47,56.81 L235.81,55.71 L236.15,54.62 L236.49,53.55 L236.83,52.49 L237.17,51.45 L237.51,50.43 L237.85,49.44 L238.19,48.46 L238.53,47.50 L238.87,46.57 L239.21,45.66 L239.55,44.77 L239.89,43.91 L240.23,43.07 L240.57,42.26 L240.91,41.47 L241.25,40.71 L241.58,39.98 L241.92,39.28 L242.26,38.61 L242.60,37.96 L242.94,37.34 L243.28,36.75 L243.62,36.19 L243.96,35.67 L244.30,35.17 L244.64,34.70 L244.98,34.26 L245.32,33.85 L245.66,33.47 L246.00,33.12 L246.34,32.80 L246.68,32.51 L247.02,32.25 L247.36,32.02 L247.70,31.82 L248.04,31.65 L248.38,31.51 L248.72,31.39 L249.06,31.31 L249.40,31.25 L249.74,31.22 L250.08,31.22 L250.42,31.24 L250.76,31.29 L251.10,31.37 L251.44,31.48 L251.78,31.61 L252.12,31.76 L252.46,31.94 L252.80,32.14 L253.14,32.37 L253.48,32.62 L253.82,32.89 L254.16,33.19 L254.50,33.51 L254.84,33.84 L255.18,34.20 L255.52,34.58 L255.86,34.97 L256.20,35.39 L256.54,35.82 L256.88,36.27 L257.22,36.74 L257.56,37.23 L257.90,37.73 L258.24,38.24 L258.57,38.77 L258.91,39.32 L259.25,39.87 L259.59,40.44 L259.93,41.03 L260.27,41.62 L260.61,42.23 L260.95,42.85 L261.29,43.47 L261.63,44.11 L261.97,44.75 L262.31,45.41 L262.65,46.07 L262.99,46.74 L263.33,47.42 L263.67,48.10 L264.01,48.79 L264.35,49.48 L264.69,50.18 L265.03,50.88 L265.37,51.59 L265.71,52.30 L266.05,53.01 L266.39,53.73 L266.73,54.45 L267.07,55.17 L267.41,55.89 L267.75,56.61 L268.09,57.34 L268.43,58.06 L268.77,58.78 L269.11,59.51 L269.45,60.23 L269.79,60.95 L270.13,61.67 L270.47,62.38 L270.81,63.10 L271.15,63.81 L271.49,64.52 L271.83,65.22 L272.17,65.93 L272.51,66.62 L272.85,67.32 L273.19,68.01 L273.53,68.70 L273.87,69.38 L274.21,70.05 L274.55,70.73 L274.89,71.39 L275.23,72.05 L275.56,72.71 L275.90,73.36 L276.24,74.00 L276.58,74.64 L276.92,75.27 L277.26,75.90 L277.60,76.52 L277.94,77.13 L278.28,77.74 L278.62,78.34 L278.96,78.93 L279.30,79.51 L279.64,80.09 L279.98,80.66 L280.32,81.23 L280.66,81.78 L281.00,82.33 L281.34,82.88 L281.68,83.41 L282.02,83.94 L282.36,84.46 L282.70,84.97 L283.04,85.48 L283.38,85.97 L283.72,86.46 L284.06,86.95 L284.40,87.42 L284.74,87.89 L285.08,88.35 L285.42,88.80 L285.76,89.25 L286.10,89.68 L286.44,90.12 L286.78,90.54 L287.12,90.95 L287.46,91.36 L287.80,91.77 L288.14,92.16 L288.48,92.55 L288.82,92.93 L289.16,93.30 L289.50,93.67 L289.84,94.03 L290.18,94.38 L290.52,94.72 L290.86,95.06 L291.20,95.40 L291.54,95.72 L291.88,96.04 L292.22,96.35 L292.55,96.66 L292.89,96.96 L293.23,97.25 L293.57,97.54 L293.91,97.82 L294.25,98.10 L294.59,98.37 L294.93,98.63 L295.27,98.89 L295.61,99.14 L295.95,99.39 L296.29,99.63 L296.63,99.87 L296.97,100.10 L297.31,100.33 L297.65,100.55 L297.99,100.76 L298.33,100.97 L298.67,101.18 L299.01,101.38 L299.35,101.58 L299.69,101.77 L300.03,101.95 L300.37,102.14 L300.71,102.31 L301.05,102.49 L301.39,102.66 L301.73,102.82 L302.07,102.98 L302.41,103.14 L302.75,103.29 L303.09,103.44 L303.43,103.59 L303.77,103.73 L304.11,103.87 L304.45,104.00 L304.79,104.13 L305.13,104.26 L305.47,104.38 L305.81,104.50 L306.15,104.62 L306.49,104.74 L306.83,104.85 L307.17,104.96 L307.51,105.06 L307.85,105.16 L308.19,105.26 L308.53,105.36 L308.87,105.46 L309.21,105.55 L309.54,105.64 L309.88,105.72 L310.22,105.81 L310.56,105.89 L310.90,105.97 L311.24,106.05 L311.58,106.12 L311.92,106.19 L312.26,106.27 L312.60,106.33 L312.94,106.40 L313.28,106.47 L313.62,106.53 L313.96,106.59 L314.30,106.65 L314.64,106.71 L314.98,106.76 L315.32,106.82 L315.66,106.87 L316.00,106.92 L316.34,106.97 L316.68,107.02 L317.02,107.06 L317.36,107.11 L317.70,107.15" stroke="#ff0000" stroke-width="1.6"/>
<path d="M216.10,100.21 L216.44,100.22 L216.78,100.22 L217.12,100.20 L217.46,100.17 L217.80,100.10 L218.14,100.01 L218.48,99.88 L218.82,99.72 L219.16,99.52 L219.50,99.29 L219.84,99.02 L220.18,98.71 L220.52,98.36 L220.86,97.97 L221.20,97.53 L221.54,97.06 L221.88,96.55 L222.22,96.00 L222.56,95.41 L222.90,94.78 L223.24,94.11 L223.58,93.40 L223.92,92.66 L224.26,91.88 L224.59,91.07 L224.93,90.22 L225.27,89.34 L225.61,88.43 L225.95,87.50 L226.29,86.53 L226.63,85.53 L226.97,84.51 L227.31,83.47 L227.65,82.40 L227.99,81.31 L228.33,80.21 L228.67,79.08 L229.01,77.94 L229.35,76.79 L229.69,75.62 L230.03,74.44 L230.37,73.25 L230.71,72.05 L231.05,70.85 L231.39,69.64 L231.73,68.43 L232.07,67.22 L232.41,66.01 L232.75,64.80 L233.09,63.59 L233.43,62.39 L233.77,61.19 L234.11,60.00 L234.45,58.82 L234.79,57.64 L235.13,56.48 L235.47,55.34 L235.81,54.20 L236.15,53.08 L236.49,51.98 L236.83,50.90 L237.17,49.83 L237.51,48.78 L237.85,47.75 L238.19,46.75 L238.53,45.76 L238.87,44.80 L239.21,43.87 L239.55,42.95 L239.89,42.07 L240.23,41.20 L240.57,40.37 L240.91,39.56 L241.25,38.78 L241.58,38.03 L241.92,37.31 L242.26,36.61 L242.60,35.95 L242.94,35.31 L243.28,34.71 L243.62,34.13 L243.96,33.59 L244.30,33.08 L244.64,32.59 L244.98,32.14 L245.32,31.72 L245.66,31.33 L246.00,30.97 L246.34,30.64 L246.68,30.35 L247.02,30.08 L247.36,29.84 L247.70,29.63 L248.04,29.46 L248.38,29.31 L248.72,29.19 L249.06,29.11 L249.40,29.05 L249.74,29.02 L250.08,29.02 L250.42,29.04 L250.76,29.09 L251.10,29.18 L251.44,29.28 L251.78,29.42 L252.12,29.58 L252.46,29.76 L252.80,29.97 L253.14,30.20 L253.48,30.46 L253.82,30.74 L254.16,31.04 L254.50,31.37 L254.84,31.71 L255.18,32.08 L255.52,32.47 L255.86,32.88 L256.20,33.31 L256.54,33.75 L256.88,34.22 L257.22,34.70 L257.56,35.20 L257.90,35.71 L258.24,36.24 L258.57,36.79 L258.91,37.35 L259.25,37.92 L259.59,38.51 L259.93,39.11 L260.27,39.72 L260.61,40.34 L260.95,40.98 L261.29,41.62 L261.63,42.27 L261.97,42.94 L262.31,43.61 L262.65,44.29 L262.99,44.98 L263.33,45.68 L263.67,46.38 L264.01,47.09 L264.35,47.80 L264.69,48.52 L265.03,49.24 L265.37,49.97 L265.71,50.70 L266.05,51.43 L266.39,52.17 L266.73,52.91 L267.07,53.65 L267.41,54.39 L267.75,55.14 L268.09,55.88 L268.43,56.62 L268.77,57.37 L269.11,58.11 L269.45,58.85 L269.79,59.59 L270.13,60.33 L270.47,61.07 L270.81,61.80 L271.15,62.54 L271.49,63.27 L271.83,63.99 L272.17,64.71 L272.51,65.43 L272.85,66.15 L273.19,66.86 L273.53,67.56 L273.87,68.26 L274.21,68.96 L274.55,69.65 L274.89,70.34 L275.23,71.02 L275.56,71.69 L275.90,72.36 L276.24,73.02 L276.58,73.68 L276.92,74.33 L277.26,74.97 L277.60,75.61 L277.94,76.24 L278.28,76.86 L278.62,77.48 L278.96,78.09 L279.30,78.69 L279.64,79.28 L279.98,79.87 L280.32,80.45 L280.66,81.02 L281.00,81.59 L281.34,82.15 L281.68,82.70 L282.02,83.24 L282.36,83.77 L282.70,84.30 L283.04,84.82 L283.38,85.33 L283.72,85.84 L284.06,86.33 L284.40,86.82 L284.74,87.30 L285.08,87.78 L285.42,88.24 L285.76,88.70 L286.10,89.15 L286.44,89.59 L286.78,90.03 L287.12,90.46 L287.46,90.88 L287.80,91.29 L288.14,91.70 L288.48,92.09 L288.82,92.49 L289.16,92.87 L289.50,93.25 L289.84,93.62 L290.18,93.98 L290.52,94.33 L290.86,94.68 L291.20,95.02 L291.54,95.36 L291.88,95.69 L292.22,96.01 L292.55,96.32 L292.89,96.63 L293.23,96.94 L293.57,97.23 L293.91,97.52 L294.25,97.81 L294.59,98.08 L294.93,98.36 L295.27,98.62 L295.61,98.88 L295.95,99.14 L296.29,99.38 L296.63,99.63 L296.97,99.86 L297.31,100.10 L297.65,100.32 L297.99,100.54 L298.33,100.76 L298.67,100.97 L299.01,101.18 L299.35,101.38 L299.69,101.58 L300.03,101.77 L300.37,101.96 L300.71,102.14 L301.05,102.32 L301.39,102.49 L301.73,102.66 L302.07,102.83 L302.41,102.99 L302.75,103.15 L303.09,103.30 L303.43,103.45 L303.77,103.60 L304.11,103.74 L304.45,103.88 L304.79,104.01 L305.13,104.14 L305.47,104.27 L305.81,104.39 L306.15,104.51 L306.49,104.63 L306.83,104.75 L307.17,104.86 L307.51,104.97 L307.85,105.07 L308.19,105.17 L308.53,105.27 L308.87,105.37 L309.21,105.47 L309.54,105.56 L309.88,105.65 L310.22,105.73 L310.56,105.82 L310.90,105.90 L311.24,105.98 L311.58,106.06 L311.92,106.13 L312.26,106.20 L312.60,106.27 L312.94,106.34 L313.28,106.41 L313.62,106.47 L313.96,106.54 L314.30,106.60 L314.64,106.66 L314.98,106.72 L315.32,106.77 L315.66,106.82 L316.00,106.88 L316.34,106.93 L316.68,106.98 L317.02,107.02 L317.36,107.07 L317.70,107.12" stroke="#008b00" stroke-width="1.6"/>
<path d="M216.10,100.18 L216.44,100.18 L216.78,100.18 L217.12,100.17 L217.46,100.13 L217.80,100.06 L218.14,99.97 L218.48,99.84 L218.82,99.68 L219.16,99.48 L219.50,99.25 L219.84,98.98 L220.18,98.66 L220.52,98.31 L220.86,97.92 L221.20,97.49 L221.54,97.01 L221.88,96.50 L222.22,95.94 L222.56,95.35 L222.90,94.72 L223.24,94.05 L223.58,93.34 L223.92,92.59 L224.26,91.81 L224.59,90.99 L224.93,90.14 L225.27,89.26 L225.61,88.35 L225.95,87.40 L226.29,86.43 L226.63,85.43 L226.97,84.40 L227.31,83.36 L227.65,82.28 L227.99,81.19 L228.33,80.08 L228.67,78.95 L229.01,77.81 L229.35,76.64 L229.69,75.47 L230.03,74.29 L230.37,73.09 L230.71,71.89 L231.05,70.68 L231.39,69.47 L231.73,68.25 L232.07,67.04 L232.41,65.82 L232.75,64.60 L233.09,63.39 L233.43,62.18 L233.77,60.98 L234.11,59.78 L234.45,58.59 L234.79,57.42 L235.13,56.25 L235.47,55.10 L235.81,53.96 L236.15,52.84 L236.49,51.73 L236.83,50.64 L237.17,49.57 L237.51,48.51 L237.85,47.48 L238.19,46.47 L238.53,45.48 L238.87,44.52 L239.21,43.58 L239.55,42.66 L239.89,41.77 L240.23,40.90 L240.57,40.07 L240.91,39.25 L241.25,38.47 L241.58,37.72 L241.92,36.99 L242.26,36.29 L242.60,35.62 L242.94,34.99 L243.28,34.38 L243.62,33.80 L243.96,33.26 L244.30,32.74 L244.64,32.26 L244.98,31.80 L245.32,31.38 L245.66,30.99 L246.00,30.63 L246.34,30.30 L246.68,30.00 L247.02,29.73 L247.36,29.49 L247.70,29.28 L248.04,29.10 L248.38,28.96 L248.72,28.84 L249.06,28.75 L249.40,28.69 L249.74,28.66 L250.08,28.66 L250.42,28.69 L250.76,28.74 L251.10,28.82 L251.44,28.93 L251.78,29.06 L252.12,29.22 L252.46,29.41 L252.80,29.62 L253.14,29.85 L253.48,30.11 L253.82,30.39 L254.16,30.70 L254.50,31.02 L254.84,31.37 L255.18,31.74 L255.52,32.13 L255.86,32.54 L256.20,32.97 L256.54,33.42 L256.88,33.88 L257.22,34.37 L257.56,34.87 L257.90,35.38 L258.24,35.92 L258.57,36.46 L258.91,37.03 L259.25,37.60 L259.59,38.19 L259.93,38.80 L260.27,39.41 L260.61,40.04 L260.95,40.67 L261.29,41.32 L261.63,41.98 L261.97,42.65 L262.31,43.32 L262.65,44.01 L262.99,44.70 L263.33,45.40 L263.67,46.10 L264.01,46.81 L264.35,47.53 L264.69,48.25 L265.03,48.98 L265.37,49.71 L265.71,50.44 L266.05,51.18 L266.39,51.92 L266.73,52.66 L267.07,53.41 L267.41,54.15 L267.75,54.90 L268.09,55.64 L268.43,56.39 L268.77,57.14 L269.11,57.89 L269.45,58.63 L269.79,59.37 L270.13,60.12 L270.47,60.86 L270.81,61.60 L271.15,62.33 L271.49,63.06 L271.83,63.79 L272.17,64.52 L272.51,65.24 L272.85,65.96 L273.19,66.67 L273.53,67.38 L273.87,68.09 L274.21,68.78 L274.55,69.48 L274.89,70.17 L275.23,70.85 L275.56,71.53 L275.90,72.20 L276.24,72.86 L276.58,73.52 L276.92,74.18 L277.26,74.82 L277.60,75.46 L277.94,76.10 L278.28,76.72 L278.62,77.34 L278.96,77.95 L279.30,78.56 L279.64,79.15 L279.98,79.74 L280.32,80.33 L280.66,80.90 L281.00,81.47 L281.34,82.03 L281.68,82.58 L282.02,83.13 L282.36,83.66 L282.70,84.19 L283.04,84.72 L283.38,85.23 L283.72,85.74 L284.06,86.23 L284.40,86.73 L284.74,87.21 L285.08,87.68 L285.42,88.15 L285.76,88.61 L286.10,89.06 L286.44,89.51 L286.78,89.95 L287.12,90.38 L287.46,90.80 L287.80,91.21 L288.14,91.62 L288.48,92.02 L288.82,92.41 L289.16,92.80 L289.50,93.18 L289.84,93.55 L290.18,93.91 L290.52,94.27 L290.86,94.62 L291.20,94.96 L291.54,95.30 L291.88,95.63 L292.22,95.95 L292.55,96.27 L292.89,96.58 L293.23,96.88 L293.57,97.18 L293.91,97.47 L294.25,97.76 L294.59,98.04 L294.93,98.31 L295.27,98.58 L295.61,98.84 L295.95,99.09 L296.29,99.34 L296.63,99.59 L296.97,99.83 L297.31,100.06 L297.65,100.29 L297.99,100.51 L298.33,100.73 L298.67,100.94 L299.01,101.15 L299.35,101.35 L299.69,101.55 L300.03,101.74 L300.37,101.93 L300.71,102.11 L301.05,102.29 L301.39,102.47 L301.73,102.64 L302.07,102.80 L302.41,102.97 L302.75,103.12 L303.09,103.28 L303.43,103.43 L303.77,103.57 L304.11,103.72 L304.45,103.85 L304.79,103.99 L305.13,104.12 L305.47,104.25 L305.81,104.38 L306.15,104.50 L306.49,104.61 L306.83,104.73 L307.17,104.84 L307.51,104.95 L307.85,105.06 L308.19,105.16 L308.53,105.26 L308.87,105.36 L309.21,105.45 L309.54,105.54 L309.88,105.63 L310.22,105.72 L310.56,105.81 L310.90,105.89 L311.24,105.97 L311.58,106.05 L311.92,106.12 L312.26,106.19 L312.60,106.27 L312.94,106.33 L313.28,106.40 L313.62,106.47 L313.96,106.53 L314.30,106.59 L314.64,106.65 L314.98,106.71 L315.32,106.76 L315.66,106.82 L316.00,106.87 L316.34,106.92 L316.68,106.97 L317.02,107.02 L317.36,107.06 L317.70,107.11" stroke="#0000ff" stroke-width="1.6"/>
<path d="M216.10,100.15 L216.44,100.16 L216.78,100.16 L217.12,100.14 L217.46,100.10 L217.80,100.04 L218.14,99.94 L218.48,99.82 L218.82,99.65 L219.16,99.46 L219.50,99.22 L219.84,98.95 L220.18,98.63 L220.52,98.28 L220.86,97.89 L221.20,97.45 L221.54,96.98 L221.88,96.46 L222.22,95.91 L222.56,95.31 L222.90,94.67 L223.24,94.00 L223.58,93.29 L223.92,92.54 L224.26,91.76 L224.59,90.94 L224.93,90.09 L225.27,89.20 L225.61,88.28 L225.95,87.34 L226.29,86.36 L226.63,85.36 L226.97,84.33 L227.31,83.28 L227.65,82.20 L227.99,81.11 L228.33,79.99 L228.67,78.86 L229.01,77.71 L229.35,76.55 L229.69,75.37 L230.03,74.18 L230.37,72.98 L230.71,71.78 L231.05,70.57 L231.39,69.35 L231.73,68.13 L232.07,66.91 L232.41,65.69 L232.75,64.47 L233.09,63.25 L233.43,62.04 L233.77,60.83 L234.11,59.63 L234.45,58.44 L234.79,57.26 L235.13,56.09 L235.47,54.93 L235.81,53.79 L236.15,52.66 L236.49,51.55 L236.83,50.46 L237.17,49.38 L237.51,48.33 L237.85,47.29 L238.19,46.28 L238.53,45.29 L238.87,44.32 L239.21,43.37 L239.55,42.45 L239.89,41.56 L240.23,40.69 L240.57,39.85 L240.91,39.04 L241.25,38.25 L241.58,37.50 L241.92,36.77 L242.26,36.07 L242.60,35.40 L242.94,34.76 L243.28,34.15 L243.62,33.57 L243.96,33.02 L244.30,32.50 L244.64,32.02 L244.98,31.56 L245.32,31.14 L245.66,30.74 L246.00,30.38 L246.34,30.05 L246.68,29.75 L247.02,29.48 L247.36,29.24 L247.70,29.04 L248.04,28.86 L248.38,28.71 L248.72,28.59 L249.06,28.50 L249.40,28.44 L249.74,28.41 L250.08,28.41 L250.42,28.44 L250.76,28.49 L251.10,28.57 L251.44,28.68 L251.78,28.82 L252.12,28.98 L252.46,29.16 L252.80,29.37 L253.14,29.61 L253.48,29.87 L253.82,30.15 L254.16,30.45 L254.50,30.78 L254.84,31.13 L255.18,31.50 L255.52,31.89 L255.86,32.30 L256.20,32.73 L256.54,33.18 L256.88,33.65 L257.22,34.14 L257.56,34.64 L257.90,35.16 L258.24,35.69 L258.57,36.24 L258.91,36.80 L259.25,37.38 L259.59,37.97 L259.93,38.58 L260.27,39.19 L260.61,39.82 L260.95,40.46 L261.29,41.11 L261.63,41.77 L261.97,42.44 L262.31,43.12 L262.65,43.80 L262.99,44.50 L263.33,45.20 L263.67,45.91 L264.01,46.62 L264.35,47.34 L264.69,48.06 L265.03,48.79 L265.37,49.52 L265.71,50.26 L266.05,51.00 L266.39,51.74 L266.73,52.49 L267.07,53.23 L267.41,53.98 L267.75,54.73 L268.09,55.48 L268.43,56.23 L268.77,56.98 L269.11,57.73 L269.45,58.48 L269.79,59.22 L270.13,59.97 L270.47,60.71 L270.81,61.45 L271.15,62.19 L271.49,62.92 L271.83,63.65 L272.17,64.38 L272.51,65.11 L272.85,65.83 L273.19,66.54 L273.53,67.25 L273.87,67.96 L274.21,68.66 L274.55,69.36 L274.89,70.05 L275.23,70.73 L275.56,71.41 L275.90,72.09 L276.24,72.75 L276.58,73.42 L276.92,74.07 L277.26,74.72 L277.60,75.36 L277.94,75.99 L278.28,76.62 L278.62,77.24 L278.96,77.86 L279.30,78.46 L279.64,79.06 L279.98,79.65 L280.32,80.24 L280.66,80.82 L281.00,81.39 L281.34,81.95 L281.68,82.50 L282.02,83.05 L282.36,83.59 L282.70,84.12 L283.04,84.64 L283.38,85.16 L283.72,85.67 L284.06,86.17 L284.40,86.66 L284.74,87.14 L285.08,87.62 L285.42,88.09 L285.76,88.55 L286.10,89.00 L286.44,89.45 L286.78,89.89 L287.12,90.32 L287.46,90.74 L287.80,91.16 L288.14,91.57 L288.48,91.97 L288.82,92.36 L289.16,92.75 L289.50,93.13 L289.84,93.50 L290.18,93.87 L290.52,94.23 L290.86,94.58 L291.20,94.92 L291.54,95.26 L291.88,95.59 L292.22,95.92 L292.55,96.23 L292.89,96.54 L293.23,96.85 L293.57,97.15 L293.91,97.44 L294.25,97.73 L294.59,98.00 L294.93,98.28 L295.27,98.55 L295.61,98.81 L295.95,99.06 L296.29,99.32 L296.63,99.56 L296.97,99.80 L297.31,100.03 L297.65,100.26 L297.99,100.49 L298.33,100.70 L298.67,100.92 L299.01,101.12 L299.35,101.33 L299.69,101.53 L300.03,101.72 L300.37,101.91 L300.71,102.09 L301.05,102.27 L301.39,102.45 L301.73,102.62 L302.07,102.79 L302.41,102.95 L302.75,103.11 L303.09,103.26 L303.43,103.41 L303.77,103.56 L304.11,103.70 L304.45,103.84 L304.79,103.98 L305.13,104.11 L305.47,104.24 L305.81,104.36 L306.15,104.48 L306.49,104.60 L306.83,104.72 L307.17,104.83 L307.51,104.94 L307.85,105.05 L308.19,105.15 L308.53,105.25 L308.87,105.35 L309.21,105.44 L309.54,105.54 L309.88,105.63 L310.22,105.71 L310.56,105.80 L310.90,105.88 L311.24,105.96 L311.58,106.04 L311.92,106.11 L312.26,106.19 L312.60,106.26 L312.94,106.33 L313.28,106.40 L313.62,106.46 L313.96,106.52 L314.30,106.58 L314.64,106.64 L314.98,106.70 L315.32,106.76 L315.66,106.81 L316.00,106.87 L316.34,106.92 L316.68,106.97 L317.02,107.01 L317.36,107.06 L317.70,107.11" stroke="#670748" stroke-width="1.6"/>
</g>
<clipPath id="cb"><rect x="45.5" y="191.6" width="284.0" height="179.50"/></clipPath>
<path d="M44.64,372.91L46.36,371.89 M51.07,368.56L52.39,367.06 M54.93,362.33L55.87,360.57 M58.11,355.66L58.81,353.78 M60.60,348.82L61.20,346.92 M62.81,341.86L63.39,339.94 M64.90,334.89L65.46,332.97 M66.76,327.79L67.28,325.87 M68.91,320.86L69.43,318.92 M70.76,313.65L71.26,311.71 M72.36,306.55L72.84,304.61 M74.07,299.46L74.55,297.52 M75.66,292.24L76.14,290.30 M77.61,285.14L78.07,283.20 M79.31,278.17L79.79,276.23 M81.01,271.20L81.49,269.26 M82.84,264.10L83.34,262.16 M84.66,257.01L85.18,255.07 M86.61,250.03L87.15,248.11 M88.65,242.71L89.23,240.79 M90.64,235.95L91.26,234.05 M92.98,229.03L93.66,227.15 M95.40,222.04L96.12,220.18 M98.30,215.31L99.10,213.47 M101.59,208.74L102.67,207.06 M105.92,203.17L107.62,202.11 M112.51,200.17L114.49,200.47 M118.89,203.43L120.37,204.77 M123.42,209.09L124.58,210.71 M127.38,215.26L128.30,217.04 M130.49,221.72L131.31,223.54 M133.57,228.44L134.35,230.28 M136.64,235.16L137.40,237.02 M139.35,241.88L140.07,243.74 M141.80,248.61L142.52,250.47 M144.22,255.89L144.92,257.77 M146.91,262.62L147.61,264.50 M149.73,269.35L150.43,271.23 M152.16,276.09L152.88,277.95 M154.84,283.06L155.58,284.92 M157.65,289.79L158.41,291.65 M160.41,296.58L161.19,298.42 M163.44,303.14L164.26,304.96 M166.43,310.00L167.31,311.80 M169.59,316.50L170.51,318.28 M172.86,323.12L173.84,324.86 M176.50,329.38L177.54,331.08 M180.49,335.53L181.63,337.17 M184.73,341.36L185.97,342.94 M189.47,347.00L190.81,348.48 M194.66,352.20L196.14,353.54 M200.10,356.93L201.70,358.11 M206.15,361.07L207.89,362.05 M212.82,364.24L214.68,365.00 M219.52,366.73L221.44,367.27 M226.25,368.20L228.21,368.58 M233.61,369.38L235.59,369.62 M240.67,370.39L242.67,370.55 M248.25,370.79L250.25,370.89 M255.50,371.11L257.50,371.19 M262.80,371.35L264.80,371.45" fill="none" stroke="#000" stroke-width="2.0" clip-path="url(#cb)"/>
<path d="M45.50,372.40 L75.00,372.40 L75.32,372.29 L75.64,372.17 L75.96,372.07 L76.27,372.00 L76.59,371.94 L76.91,371.90 L77.23,371.88 L77.55,371.87 L77.87,371.88 L78.19,371.90 L78.50,371.93 L78.82,371.97 L79.14,372.02 L79.46,372.08 L79.78,372.14 L80.10,372.20 L80.41,372.26 L80.73,372.33 L81.05,372.39 L81.37,372.40 L81.69,372.40 L82.01,372.40 L82.33,372.40 L82.64,372.40 L82.96,372.40 L83.28,372.40 L83.60,372.40 L83.92,372.40 L84.24,372.40 L84.56,372.40 L84.87,372.40 L85.19,372.40 L85.51,372.40 L85.83,372.40 L86.15,372.34 L86.47,372.23 L86.79,372.11 L87.10,371.97 L87.42,371.81 L87.74,371.63 L88.06,371.43 L88.38,371.26 L88.70,371.11 L89.02,370.97 L89.33,370.79 L89.65,370.55 L89.97,370.23 L90.29,369.83 L90.61,369.42 L90.93,368.98 L91.24,368.54 L91.56,368.08 L91.88,367.60 L92.20,367.12 L92.52,366.62 L92.84,366.10 L93.16,365.57 L93.47,365.03 L93.79,364.48 L94.11,363.91 L94.43,363.32 L94.75,362.72 L95.07,362.10 L95.39,361.46 L95.70,360.80 L96.02,360.12 L96.34,359.43 L96.66,358.71 L96.98,357.97 L97.30,357.21 L97.62,356.43 L97.93,355.63 L98.25,354.80 L98.57,353.96 L98.89,353.09 L99.21,352.20 L99.53,351.28 L99.84,350.35 L100.16,349.40 L100.48,348.43 L100.80,347.44 L101.12,346.44 L101.44,345.43 L101.76,344.41 L102.07,343.38 L102.39,342.35 L102.71,341.31 L103.03,340.26 L103.35,339.21 L103.67,338.16 L103.99,337.12 L104.30,336.07 L104.62,335.03 L104.94,334.00 L105.26,332.97 L105.58,331.95 L105.90,330.94 L106.22,329.94 L106.53,328.95 L106.85,327.97 L107.17,327.00 L107.49,326.05 L107.81,325.12 L108.13,324.20 L108.44,323.29 L108.76,322.40 L109.08,321.52 L109.40,320.66 L109.72,319.81 L110.04,318.98 L110.36,318.16 L110.67,317.35 L110.99,316.56 L111.31,315.78 L111.63,315.02 L111.95,314.27 L112.27,313.53 L112.59,312.81 L112.90,312.10 L113.22,311.41 L113.54,310.72 L113.86,310.06 L114.18,309.40 L114.50,308.76 L114.82,308.13 L115.13,307.51 L115.45,306.91 L115.77,306.32 L116.09,305.74 L116.41,305.17 L116.73,304.62 L117.05,304.07 L117.36,303.54 L117.68,303.01 L118.00,302.50 L118.32,301.99 L118.64,301.50 L118.96,301.01 L119.27,300.53 L119.59,300.06 L119.91,299.59 L120.23,299.13 L120.55,298.68 L120.87,298.23 L121.19,297.79 L121.50,297.36 L121.82,296.92 L122.14,296.50 L122.46,296.07 L122.78,295.65 L123.10,295.23 L123.42,294.81 L123.73,294.39 L124.05,293.98 L124.37,293.56 L124.69,293.15 L125.01,292.73 L125.33,292.31 L125.65,291.89 L125.96,291.47 L126.28,291.06 L126.60,290.64 L126.92,290.23 L127.24,289.81 L127.56,289.40 L127.87,289.00 L128.19,288.60 L128.51,288.21 L128.83,287.84 L129.15,287.49 L129.47,287.15 L129.79,286.83 L130.10,286.52 L130.42,286.23 L130.74,285.94 L131.06,285.67 L131.38,285.41 L131.70,285.16 L132.02,284.92 L132.33,284.69 L132.65,284.46 L132.97,284.25 L133.29,284.05 L133.61,283.87 L133.93,283.71 L134.25,283.57 L134.56,283.45 L134.88,283.34 L135.20,283.24 L135.52,283.14 L135.84,283.05 L136.16,282.95 L136.47,282.85 L136.79,282.74 L137.11,282.62 L137.43,282.50 L137.75,282.39 L138.07,282.28 L138.39,282.19 L138.70,282.10 L139.02,282.02 L139.34,281.94 L139.66,281.87 L139.98,281.80 L140.30,281.74 L140.62,281.68 L140.93,281.63 L141.25,281.57 L141.57,281.52 L141.89,281.48 L142.21,281.43 L142.53,281.39 L142.85,281.34 L143.16,281.30 L143.48,281.26 L143.80,281.21 L144.12,281.17 L144.44,281.12 L144.76,281.07 L145.08,281.02 L145.39,280.97 L145.71,280.91 L146.03,280.86 L146.35,280.80 L146.67,280.73 L146.99,280.67 L147.30,280.60 L147.62,280.53 L147.94,280.46 L148.26,280.39 L148.58,280.31 L148.90,280.23 L149.22,280.16 L149.53,280.08 L149.85,279.99 L150.17,279.91 L150.49,279.83 L150.81,279.74 L151.13,279.65 L151.45,279.57 L151.76,279.48 L152.08,279.38 L152.40,279.29 L152.72,279.20 L153.04,279.10 L153.36,279.00 L153.68,278.91 L153.99,278.81 L154.31,278.71 L154.63,278.61 L154.95,278.51 L155.27,278.41 L155.59,278.30 L155.90,278.20 L156.22,278.10 L156.54,278.00 L156.86,277.89 L157.18,277.79 L157.50,277.68 L157.82,277.58 L158.13,277.48 L158.45,277.37 L158.77,277.27 L159.09,277.17 L159.41,277.06 L159.73,276.96 L160.05,276.86 L160.36,276.76 L160.68,276.66 L161.00,276.55 L161.32,276.45 L161.64,276.36 L161.96,276.26 L162.28,276.16 L162.59,276.06 L162.91,275.97 L163.23,275.87 L163.55,275.78 L163.87,275.68 L164.19,275.59 L164.51,275.50 L164.82,275.41 L165.14,275.32 L165.46,275.23 L165.78,275.14 L166.10,275.05 L166.42,274.96 L166.73,274.87 L167.05,274.78 L167.37,274.69 L167.69,274.60 L168.01,274.51 L168.33,274.42 L168.65,274.34 L168.96,274.25 L169.28,274.17 L169.60,274.08 L169.92,274.00 L170.24,273.92 L170.56,273.84 L170.88,273.77 L171.19,273.69 L171.51,273.62 L171.83,273.55 L172.15,273.48 L172.47,273.41 L172.79,273.35 L173.11,273.28 L173.42,273.22 L173.74,273.17 L174.06,273.11 L174.38,273.06 L174.70,273.01 L175.02,272.97 L175.33,272.93 L175.65,272.89 L175.97,272.85 L176.29,272.82 L176.61,272.80 L176.93,272.77 L177.25,272.75 L177.56,272.74 L177.88,272.73 L178.20,272.72 L178.52,272.72 L178.84,272.72 L179.16,272.72 L179.48,272.73 L179.79,272.74 L180.11,272.75 L180.43,272.77 L180.75,272.79 L181.07,272.81 L181.39,272.84 L181.71,272.86 L182.02,272.90 L182.34,272.93 L182.66,272.97 L182.98,273.01 L183.30,273.06 L183.62,273.10 L183.93,273.15 L184.25,273.21 L184.57,273.26 L184.89,273.32 L185.21,273.38 L185.53,273.44 L185.85,273.51 L186.16,273.58 L186.48,273.65 L186.80,273.72 L187.12,273.79 L187.44,273.87 L187.76,273.95 L188.08,274.03 L188.39,274.12 L188.71,274.20 L189.03,274.29 L189.35,274.38 L189.67,274.48 L189.99,274.57 L190.31,274.67 L190.62,274.77 L190.94,274.87 L191.26,274.97 L191.58,275.08 L191.90,275.19 L192.22,275.30 L192.54,275.42 L192.85,275.53 L193.17,275.65 L193.49,275.78 L193.81,275.90 L194.13,276.03 L194.45,276.16 L194.76,276.30 L195.08,276.43 L195.40,276.57 L195.72,276.72 L196.04,276.86 L196.36,277.01 L196.68,277.16 L196.99,277.32 L197.31,277.48 L197.63,277.64 L197.95,277.80 L198.27,277.97 L198.59,278.14 L198.91,278.31 L199.22,278.49 L199.54,278.67 L199.86,278.85 L200.18,279.04 L200.50,279.23 L200.82,279.42 L201.14,279.62 L201.45,279.83 L201.77,280.03 L202.09,280.24 L202.41,280.46 L202.73,280.67 L203.05,280.89 L203.36,281.12 L203.68,281.34 L204.00,281.57 L204.32,281.80 L204.64,282.04 L204.96,282.28 L205.28,282.52 L205.59,282.76 L205.91,283.00 L206.23,283.25 L206.55,283.50 L206.87,283.75 L207.19,284.00 L207.51,284.25 L207.82,284.50 L208.14,284.76 L208.46,285.02 L208.78,285.28 L209.10,285.54 L209.42,285.80 L209.74,286.06 L210.05,286.32 L210.37,286.58 L210.69,286.84 L211.01,287.10 L211.33,287.36 L211.65,287.61 L211.96,287.87 L212.28,288.13 L212.60,288.38 L212.92,288.64 L213.24,288.90 L213.56,289.15 L213.88,289.41 L214.19,289.67 L214.51,289.92 L214.83,290.18 L215.15,290.44 L215.47,290.70 L215.79,290.96 L216.11,291.22 L216.42,291.48 L216.74,291.74 L217.06,292.00 L217.38,292.27 L217.70,292.53 L218.02,292.80 L218.34,293.07 L218.65,293.34 L218.97,293.62 L219.29,293.89 L219.61,294.17 L219.93,294.45 L220.25,294.73 L220.57,295.02 L220.88,295.31 L221.20,295.59 L221.52,295.88 L221.84,296.16 L222.16,296.44 L222.48,296.72 L222.79,297.00 L223.11,297.27 L223.43,297.54 L223.75,297.81 L224.07,298.08 L224.39,298.35 L224.71,298.62 L225.02,298.88 L225.34,299.14 L225.66,299.41 L225.98,299.67 L226.30,299.94 L226.62,300.20 L226.94,300.46 L227.25,300.73 L227.57,300.99 L227.89,301.26 L228.21,301.53 L228.53,301.80 L228.85,302.07 L229.17,302.34 L229.48,302.61 L229.80,302.89 L230.12,303.17 L230.44,303.45 L230.76,303.74 L231.08,304.02 L231.39,304.31 L231.71,304.61 L232.03,304.90 L232.35,305.20 L232.67,305.51 L232.99,305.82 L233.31,306.13 L233.62,306.44 L233.94,306.75 L234.26,307.05 L234.58,307.36 L234.90,307.66 L235.22,307.97 L235.54,308.27 L235.85,308.57 L236.17,308.87 L236.49,309.17 L236.81,309.47 L237.13,309.77 L237.45,310.07 L237.77,310.37 L238.08,310.67 L238.40,310.97 L238.72,311.27 L239.04,311.58 L239.36,311.88 L239.68,312.18 L239.99,312.49 L240.31,312.79 L240.63,313.10 L240.95,313.40 L241.27,313.71 L241.59,314.02 L241.91,314.34 L242.22,314.65 L242.54,314.97 L242.86,315.29 L243.18,315.61 L243.50,315.93 L243.82,316.25 L244.14,316.58 L244.45,316.91 L244.77,317.23 L245.09,317.56 L245.41,317.88 L245.73,318.20 L246.05,318.52 L246.37,318.84 L246.68,319.16 L247.00,319.48 L247.32,319.79 L247.64,320.10 L247.96,320.41 L248.28,320.72 L248.60,321.03 L248.91,321.34 L249.23,321.64 L249.55,321.95 L249.87,322.25 L250.19,322.55 L250.51,322.85 L250.82,323.14 L251.14,323.44 L251.46,323.73 L251.78,324.02 L252.10,324.31 L252.42,324.60 L252.74,324.88 L253.05,325.17 L253.37,325.45 L253.69,325.73 L254.01,326.00 L254.33,326.28 L254.65,326.56 L254.97,326.84 L255.28,327.12 L255.60,327.40 L255.92,327.68 L256.24,327.96 L256.56,328.24 L256.88,328.52 L257.20,328.80 L257.51,329.08 L257.83,329.36 L258.15,329.65 L258.47,329.93 L258.79,330.21 L259.11,330.49 L259.42,330.76 L259.74,331.04 L260.06,331.32 L260.38,331.60 L260.70,331.87 L261.02,332.15 L261.34,332.42 L261.65,332.69 L261.97,332.96 L262.29,333.23 L262.61,333.50 L262.93,333.77 L263.25,334.03 L263.57,334.30 L263.88,334.56 L264.20,334.82 L264.52,335.08 L264.84,335.33 L265.16,335.59 L265.48,335.84 L265.80,336.09 L266.11,336.34 L266.43,336.60 L266.75,336.85 L267.07,337.10 L267.39,337.36 L267.71,337.61 L268.03,337.86 L268.34,338.11 L268.66,338.36 L268.98,338.61 L269.30,338.86 L269.62,339.11 L269.94,339.36 L270.25,339.61 L270.57,339.86 L270.89,340.10 L271.21,340.35 L271.53,340.59 L271.85,340.84 L272.17,341.08 L272.48,341.32 L272.80,341.56 L273.12,341.80 L273.44,342.04 L273.76,342.27 L274.08,342.51 L274.40,342.74 L274.71,342.97 L275.03,343.20 L275.35,343.43 L275.67,343.65 L275.99,343.88 L276.31,344.10 L276.63,344.32 L276.94,344.54 L277.26,344.75 L277.58,344.97 L277.90,345.18 L278.22,345.39 L278.54,345.61 L278.85,345.82 L279.17,346.03 L279.49,346.23 L279.81,346.44 L280.13,346.65 L280.45,346.86 L280.77,347.06 L281.08,347.27 L281.40,347.47 L281.72,347.67 L282.04,347.87 L282.36,348.07 L282.68,348.27 L283.00,348.47 L283.31,348.66 L283.63,348.86 L283.95,349.05 L284.27,349.25 L284.59,349.44 L284.91,349.63 L285.23,349.82 L285.54,350.01 L285.86,350.20 L286.18,350.38 L286.50,350.57 L286.82,350.75 L287.14,350.93 L287.45,351.12 L287.77,351.30 L288.09,351.47 L288.41,351.65 L288.73,351.83 L289.05,352.00 L289.37,352.18 L289.68,352.35 L290.00,352.52 L290.32,352.69 L290.64,352.86 L290.96,353.03 L291.28,353.19 L291.60,353.36 L291.91,353.52 L292.23,353.69 L292.55,353.85 L292.87,354.01 L293.19,354.17 L293.51,354.33 L293.83,354.49 L294.14,354.65 L294.46,354.80 L294.78,354.96 L295.10,355.12 L295.42,355.27 L295.74,355.42 L296.06,355.57 L296.37,355.73 L296.69,355.88 L297.01,356.03 L297.33,356.17 L297.65,356.32 L297.97,356.47 L298.28,356.62 L298.60,356.76 L298.92,356.90 L299.24,357.05 L299.56,357.19 L299.88,357.33 L300.20,357.48 L300.51,357.62 L300.83,357.76 L301.15,357.90 L301.47,358.03 L301.79,358.17 L302.11,358.31 L302.43,358.45 L302.74,358.58 L303.06,358.72 L303.38,358.85 L303.70,358.99 L304.02,359.12 L304.34,359.26 L304.66,359.39 L304.97,359.52 L305.29,359.65 L305.61,359.79 L305.93,359.92 L306.25,360.05 L306.57,360.18 L306.88,360.31 L307.20,360.43 L307.52,360.56 L307.84,360.69 L308.16,360.81 L308.48,360.94 L308.80,361.06 L309.11,361.18 L309.43,361.30 L309.75,361.42 L310.07,361.54 L310.39,361.66 L310.71,361.78 L311.03,361.90 L311.34,362.01 L311.66,362.13 L311.98,362.24 L312.30,362.35 L312.62,362.46 L312.94,362.57 L313.26,362.68 L313.57,362.78 L313.89,362.89 L314.21,362.99 L314.53,363.10 L314.85,363.20 L315.17,363.30 L315.48,363.40 L315.80,363.49 L316.12,363.59 L316.44,363.69 L316.76,363.78 L317.08,363.87 L317.40,363.97 L317.71,364.06 L318.03,364.15 L318.35,364.24 L318.67,364.33 L318.99,364.41 L319.31,364.50 L319.63,364.58 L319.94,364.67 L320.26,364.75 L320.58,364.83 L320.90,364.92 L321.22,365.00 L321.54,365.07 L321.86,365.15 L322.17,365.23 L322.49,365.31 L322.81,365.38 L323.13,365.46 L323.45,365.53 L323.77,365.60 L324.09,365.67 L324.40,365.74 L324.72,365.81 L325.04,365.88 L325.36,365.95 L325.68,366.02 L326.00,366.08 L326.31,366.15 L326.63,366.21 L326.95,366.28 L327.27,366.34 L327.59,366.40 L327.91,366.46 L328.23,366.52 L328.54,366.58 L328.86,366.63 L329.18,366.69 L329.50,366.75" fill="none" stroke="#f00" stroke-width="2" stroke-dasharray="9.5 5.13" clip-path="url(#cb)"/>
<rect x="45.5" y="7.3" width="284.0" height="180.79999999999998" fill="none" stroke="#000" stroke-width="2.2"/>
<rect x="45.5" y="191.6" width="284.0" height="180.79999999999998" fill="none" stroke="#000" stroke-width="2.2"/>
<rect x="216.1" y="19.6" width="101.6" height="88.80000000000001" fill="none" stroke="#000" stroke-width="1.9"/>
<path d="M46.4,173.6 V186.9" stroke="#670748" stroke-width="0.7" opacity="0.75" fill="none"/>
<path d="M92.83,188.1 v-6.2 M92.83,7.3 v6.2 M140.17,188.1 v-10.0 M140.17,7.3 v10.0 M187.50,188.1 v-6.2 M187.50,7.3 v6.2 M234.83,188.1 v-10.0 M234.83,7.3 v10.0 M282.17,188.1 v-6.2 M282.17,7.3 v6.2 M45.5,157.97 h6.2 M329.5,157.97 h-6.2 M45.5,127.83 h10.0 M329.5,127.83 h-10.0 M45.5,97.70 h6.2 M329.5,97.70 h-6.2 M45.5,67.57 h10.0 M329.5,67.57 h-10.0 M45.5,37.43 h6.2 M329.5,37.43 h-6.2" stroke="#000" stroke-width="2.0" fill="none"/>
<path d="M92.83,372.4 v-6.2 M92.83,191.6 v6.2 M140.17,372.4 v-11.2 M140.17,191.6 v11.2 M187.50,372.4 v-6.2 M187.50,191.6 v6.2 M234.83,372.4 v-11.2 M234.83,191.6 v11.2 M282.17,372.4 v-6.2 M282.17,191.6 v6.2 M45.5,342.27 h6.2 M329.5,342.27 h-6.2 M45.5,312.13 h11.2 M329.5,312.13 h-11.2 M45.5,282.00 h6.2 M329.5,282.00 h-6.2 M45.5,251.87 h11.2 M329.5,251.87 h-11.2 M45.5,221.73 h6.2 M329.5,221.73 h-6.2" stroke="#000" stroke-width="2.0" fill="none"/>
<path d="M241.50,108.4 v-6.1 M241.50,19.6 v6.1 M266.90,108.4 v-10.2 M266.90,19.6 v10.2 M292.30,108.4 v-6.1 M292.30,19.6 v6.1 M216.1,90.64 h6.1 M317.7,90.64 h-6.1 M216.1,72.88 h10.2 M317.7,72.88 h-10.2 M216.1,55.12 h6.1 M317.7,55.12 h-6.1 M216.1,37.36 h10.2 M317.7,37.36 h-10.2" stroke="#000" stroke-width="1.9" fill="none"/>
<text x="42.5" y="13.00000000000001" font-size="17" text-anchor="end"  >3</text>
<text x="42.5" y="197.29999999999998" font-size="17" text-anchor="end"  >3</text>
<text x="42.5" y="73.26666666666668" font-size="17" text-anchor="end"  >2</text>
<text x="42.5" y="257.56666666666666" font-size="17" text-anchor="end"  >2</text>
<text x="42.5" y="133.53333333333333" font-size="17" text-anchor="end"  >1</text>
<text x="42.5" y="317.8333333333333" font-size="17" text-anchor="end"  >1</text>
<text x="42.5" y="193.79999999999998" font-size="17" text-anchor="end"  >0</text>
<text x="42.5" y="378.09999999999997" font-size="17" text-anchor="end"  >0</text>
<text x="45.5" y="387.6" font-size="17" text-anchor="middle"  >0</text>
<text x="140.16666666666669" y="387.6" font-size="17" text-anchor="middle"  >0.4</text>
<text x="234.83333333333334" y="387.6" font-size="17" text-anchor="middle"  >0.8</text>
<text x="64" y="39" font-size="17" text-anchor="start"  >(a)</text>
<text x="66.4" y="219.9" font-size="17" text-anchor="start"  >(b)</text>
<text x="175.5" y="401.0" font-size="17" >κ<tspan dy="7.7" dx="-0.4" font-size="12">3</tspan><tspan dy="-7.7" x="194.3">r</tspan></text>
<text transform="translate(19.4,148.7) rotate(-90)" font-size="17" >4<tspan stroke="#000" stroke-width="0.48">π</tspan>r<tspan dy="-10.03" font-size="12.5">2</tspan><tspan dy="10.03" dx="-0.6">P</tspan><tspan dy="7.39" font-size="12.5">pair</tspan><tspan dy="-7.39">(r) / κ</tspan><tspan dy="7.39" font-size="12.5">3</tspan></text>
<text transform="translate(19.4,333.2) rotate(-90)" font-size="17" >4<tspan stroke="#000" stroke-width="0.48">π</tspan>r<tspan dy="-10.03" font-size="12.5">2</tspan><tspan dy="10.03" dx="-0.6">P</tspan><tspan dy="7.39" font-size="12.5">pair</tspan><tspan dy="-7.39">(r) / κ</tspan><tspan dy="7.39" font-size="12.5">3</tspan></text>
<text x="212.1" y="41.16" font-size="13" text-anchor="end"  >0.2</text>
<text x="212.1" y="76.67999999999999" font-size="13" text-anchor="end"  >0.1</text>
<text x="212" y="112.2" font-size="13" text-anchor="end"  >0</text>
<text x="216.1" y="121.6" font-size="13" text-anchor="middle"  >0</text>
<text x="266.9" y="121.6" font-size="13" text-anchor="middle"  >5</text>
<text x="317.7" y="121.6" font-size="13" text-anchor="middle"  >10</text>
<text x="256.2" y="131.8" font-size="13" >κ<tspan dy="5.5" dx="-0.7" font-size="8.7">13</tspan><tspan dy="-5.5" x="274.0">r</tspan></text>
<text transform="translate(187.4,100.4) rotate(-90)" font-size="12.55" >4<tspan stroke="#000" stroke-width="0.35">π</tspan>r<tspan dy="-7.40" font-size="9.0">2</tspan><tspan dy="7.40" dx="-0.3">P</tspan><tspan dy="4.14" font-size="9.0">pair</tspan><tspan dy="-4.14">(r) / κ</tspan><tspan dy="4.14" font-size="9.0">13</tspan></text>
</svg>
</body></html>
